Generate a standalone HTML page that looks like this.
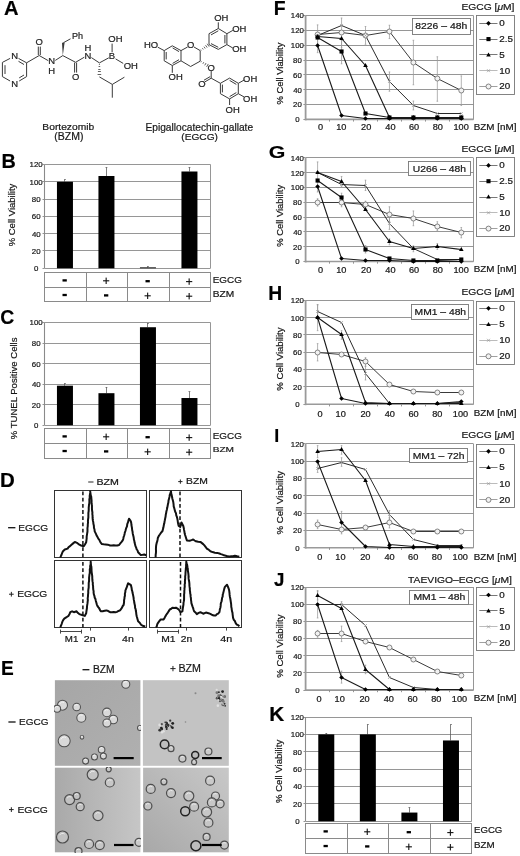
<!DOCTYPE html>
<html><head><meta charset="utf-8"><style>
html,body{margin:0;padding:0;background:#fff;}
svg{display:block;will-change:transform;}
text{font-family:"Liberation Sans",sans-serif;stroke:#111;stroke-width:0.2px;}
</style></head><body>
<svg width="520" height="856" viewBox="0 0 520 856">
<rect width="520" height="856" fill="#fff"/>
<text x="3.9" y="14.6" font-size="20.29" font-weight="bold" textLength="14.55" lengthAdjust="spacingAndGlyphs" fill="#000">A</text>
<text x="1.41" y="167.7" font-size="20.58" font-weight="bold" textLength="14.33" lengthAdjust="spacingAndGlyphs" fill="#000">B</text>
<text x="0.22" y="323.8" font-size="20.28" font-weight="bold" textLength="14" lengthAdjust="spacingAndGlyphs" fill="#000">C</text>
<text x="-0.13" y="487" font-size="20.43" font-weight="bold" textLength="14.8" lengthAdjust="spacingAndGlyphs" fill="#000">D</text>
<text x="0.96" y="674.9" font-size="20.87" font-weight="bold" textLength="12.75" lengthAdjust="spacingAndGlyphs" fill="#000">E</text>
<text x="273.64" y="15.2" font-size="19.86" font-weight="bold" textLength="11.86" lengthAdjust="spacingAndGlyphs" fill="#000">F</text>
<text x="268.75" y="157.83" font-size="16.76" font-weight="bold" textLength="16.59" lengthAdjust="spacingAndGlyphs" fill="#000">G</text>
<text x="268.34" y="299.5" font-size="19.42" font-weight="bold" textLength="13.95" lengthAdjust="spacingAndGlyphs" fill="#000">H</text>
<text x="274.13" y="441.6" font-size="19.13" font-weight="bold" textLength="4.98" lengthAdjust="spacingAndGlyphs" fill="#000">I</text>
<text x="274.12" y="586.12" font-size="18.43" font-weight="bold" textLength="10.42" lengthAdjust="spacingAndGlyphs" fill="#000">J</text>
<text x="269.25" y="720.5" font-size="19.86" font-weight="bold" textLength="15" lengthAdjust="spacingAndGlyphs" fill="#000">K</text>
<polyline points="10.1,58.4 2.4,62.4 2.4,76.6 10.1,81" stroke="#3a3a3a" stroke-width="1" fill="none" stroke-linejoin="round" />
<polyline points="18.5,58.4 26.6,62.8 26.6,76.6 19.2,81" stroke="#3a3a3a" stroke-width="1" fill="none" stroke-linejoin="round" />
<polyline points="18.5,61.3 24,64.5" stroke="#3a3a3a" stroke-width="1" fill="none" stroke-linejoin="round" />
<polyline points="24,75 19.2,77.9" stroke="#3a3a3a" stroke-width="1" fill="none" stroke-linejoin="round" />
<polyline points="5,65.2 5,74" stroke="#3a3a3a" stroke-width="1" fill="none" stroke-linejoin="round" />
<text x="11.39" y="58.77" font-size="8.6" font-weight="normal" textLength="6.83" lengthAdjust="spacingAndGlyphs" fill="#2a2a2a">N</text>
<text x="11.39" y="86.97" font-size="8.6" font-weight="normal" textLength="6.83" lengthAdjust="spacingAndGlyphs" fill="#2a2a2a">N</text>
<polyline points="26.6,62.8 39.2,55.5 48.3,60.7" stroke="#3a3a3a" stroke-width="1" fill="none" stroke-linejoin="round" />
<polyline points="38.3,55 38.3,46.6" stroke="#3a3a3a" stroke-width="1" fill="none" stroke-linejoin="round" />
<polyline points="40.3,55 40.3,46.6" stroke="#3a3a3a" stroke-width="1" fill="none" stroke-linejoin="round" />
<text x="35.53" y="45.17" font-size="8.6" font-weight="normal" textLength="7.36" lengthAdjust="spacingAndGlyphs" fill="#2a2a2a">O</text>
<polyline points="55.3,60.4 62.8,55.6 75.6,62.3 84.3,57.2" stroke="#3a3a3a" stroke-width="1" fill="none" stroke-linejoin="round" />
<polygon points="62.80,55.60 64.60,42.85 62.00,42.75" fill="#3a3a3a"/>
<polyline points="63.3,42.8 70.5,38.8" stroke="#3a3a3a" stroke-width="1" fill="none" stroke-linejoin="round" />
<text x="72.02" y="39.02" font-size="8.6" font-weight="normal" textLength="11.05" lengthAdjust="spacingAndGlyphs" fill="#2a2a2a">Ph</text>
<text x="48.39" y="64.17" font-size="8.6" font-weight="normal" textLength="6.83" lengthAdjust="spacingAndGlyphs" fill="#2a2a2a">N</text>
<text x="48.39" y="74.37" font-size="8.6" font-weight="normal" textLength="6.83" lengthAdjust="spacingAndGlyphs" fill="#2a2a2a">H</text>
<polyline points="74.6,62.6 74.6,72.6" stroke="#3a3a3a" stroke-width="1" fill="none" stroke-linejoin="round" />
<polyline points="76.6,62.6 76.6,72.6" stroke="#3a3a3a" stroke-width="1" fill="none" stroke-linejoin="round" />
<text x="71.93" y="80.17" font-size="8.6" font-weight="normal" textLength="7.36" lengthAdjust="spacingAndGlyphs" fill="#2a2a2a">O</text>
<text x="84.49" y="58.97" font-size="8.6" font-weight="normal" textLength="6.83" lengthAdjust="spacingAndGlyphs" fill="#2a2a2a">N</text>
<text x="84.49" y="50.87" font-size="8.6" font-weight="normal" textLength="6.83" lengthAdjust="spacingAndGlyphs" fill="#2a2a2a">H</text>
<polyline points="91.4,57.6 99.4,62.9 108.8,57.8" stroke="#3a3a3a" stroke-width="1" fill="none" stroke-linejoin="round" />
<line x1="99.87" y1="64.5" x2="98.93" y2="64.5" stroke="#3a3a3a" stroke-width="0.8" />
<line x1="100.21" y1="66.5" x2="98.59" y2="66.5" stroke="#3a3a3a" stroke-width="0.8" />
<line x1="100.55" y1="69.5" x2="98.25" y2="69.5" stroke="#3a3a3a" stroke-width="0.8" />
<line x1="100.89" y1="71.5" x2="97.91" y2="71.5" stroke="#3a3a3a" stroke-width="0.8" />
<line x1="101.23" y1="74.5" x2="97.57" y2="74.5" stroke="#3a3a3a" stroke-width="0.8" />
<text x="108.81" y="59.47" font-size="8.6" font-weight="normal" textLength="6.31" lengthAdjust="spacingAndGlyphs" fill="#2a2a2a">B</text>
<polyline points="112.1,52.3 112.1,43.6" stroke="#3a3a3a" stroke-width="1" fill="none" stroke-linejoin="round" />
<text x="108.37" y="41.67" font-size="8.6" font-weight="normal" textLength="14.19" lengthAdjust="spacingAndGlyphs" fill="#2a2a2a">OH</text>
<polyline points="115.6,58.9 123.2,63.4" stroke="#3a3a3a" stroke-width="1" fill="none" stroke-linejoin="round" />
<text x="123.67" y="68.77" font-size="8.6" font-weight="normal" textLength="14.19" lengthAdjust="spacingAndGlyphs" fill="#2a2a2a">OH</text>
<polyline points="99.4,76.9 112.3,84.4 124.4,77.2" stroke="#3a3a3a" stroke-width="1" fill="none" stroke-linejoin="round" />
<polyline points="112.3,84.4 112.3,97.7" stroke="#3a3a3a" stroke-width="1" fill="none" stroke-linejoin="round" />
<text x="42.38" y="130.1" font-size="9.8" font-weight="normal" textLength="51.76" lengthAdjust="spacingAndGlyphs" fill="#1a1a1a">Bortezomib</text>
<text x="54.37" y="140.34" font-size="10.27" font-weight="normal" textLength="29.18" lengthAdjust="spacingAndGlyphs" fill="#1a1a1a">(BZM)</text>
<text x="143.96" y="48.17" font-size="8.6" font-weight="normal" textLength="14.19" lengthAdjust="spacingAndGlyphs" fill="#2a2a2a">HO</text>
<polyline points="157.8,47.2 164.2,50.6" stroke="#3a3a3a" stroke-width="1" fill="none" stroke-linejoin="round" />
<polyline points="164.2,50.6 172.3,45.8 181,50.6 181,60.8 172.3,65.5 164.2,60.8 164.2,50.6" stroke="#3a3a3a" stroke-width="1" fill="none" stroke-linejoin="round" />
<polyline points="166.2,52 166.2,59.4" stroke="#3a3a3a" stroke-width="1" fill="none" stroke-linejoin="round" />
<polyline points="172.6,47.9 179,51.6" stroke="#3a3a3a" stroke-width="1" fill="none" stroke-linejoin="round" />
<polyline points="172.6,63.4 179,59.7" stroke="#3a3a3a" stroke-width="1" fill="none" stroke-linejoin="round" />
<polyline points="181,50.6 187.6,47" stroke="#3a3a3a" stroke-width="1" fill="none" stroke-linejoin="round" />
<text x="187.13" y="48.17" font-size="8.6" font-weight="normal" textLength="7.36" lengthAdjust="spacingAndGlyphs" fill="#2a2a2a">O</text>
<polyline points="194,47 200.2,50.6 200.2,61.2 190.6,66.5 181,60.8" stroke="#3a3a3a" stroke-width="1" fill="none" stroke-linejoin="round" />
<line x1="200.82" y1="49.62" x2="201.34" y2="50.38" stroke="#3a3a3a" stroke-width="0.8" />
<line x1="202.4" y1="48.16" x2="203.28" y2="49.44" stroke="#3a3a3a" stroke-width="0.8" />
<line x1="203.98" y1="46.69" x2="205.22" y2="48.51" stroke="#3a3a3a" stroke-width="0.8" />
<line x1="205.56" y1="45.23" x2="207.16" y2="47.57" stroke="#3a3a3a" stroke-width="0.8" />
<line x1="207.14" y1="43.76" x2="209.1" y2="46.64" stroke="#3a3a3a" stroke-width="0.8" />
<polyline points="209,44.6 209,33.7 218.3,28.5 226.9,33.7 226.9,44.6 218.3,49.4 209,44.6" stroke="#3a3a3a" stroke-width="1" fill="none" stroke-linejoin="round" />
<polyline points="211,34.9 218.3,30.8" stroke="#3a3a3a" stroke-width="1" fill="none" stroke-linejoin="round" />
<polyline points="224.9,35 224.9,43.4" stroke="#3a3a3a" stroke-width="1" fill="none" stroke-linejoin="round" />
<polyline points="211,43.6 218.3,47.3" stroke="#3a3a3a" stroke-width="1" fill="none" stroke-linejoin="round" />
<polyline points="218.3,28.5 218.3,22.3" stroke="#3a3a3a" stroke-width="1" fill="none" stroke-linejoin="round" />
<text x="214.27" y="21.07" font-size="8.6" font-weight="normal" textLength="14.19" lengthAdjust="spacingAndGlyphs" fill="#2a2a2a">OH</text>
<polyline points="226.9,33.7 232.8,30.4" stroke="#3a3a3a" stroke-width="1" fill="none" stroke-linejoin="round" />
<text x="232.17" y="31.97" font-size="8.6" font-weight="normal" textLength="14.19" lengthAdjust="spacingAndGlyphs" fill="#2a2a2a">OH</text>
<polyline points="226.9,44.6 232.8,48" stroke="#3a3a3a" stroke-width="1" fill="none" stroke-linejoin="round" />
<text x="232.17" y="52.17" font-size="8.6" font-weight="normal" textLength="14.19" lengthAdjust="spacingAndGlyphs" fill="#2a2a2a">OH</text>
<polyline points="172.3,65.5 172.3,72.8" stroke="#3a3a3a" stroke-width="1" fill="none" stroke-linejoin="round" />
<text x="168.57" y="80.47" font-size="8.6" font-weight="normal" textLength="14.19" lengthAdjust="spacingAndGlyphs" fill="#2a2a2a">OH</text>
<line x1="201.49" y1="61.37" x2="200.99" y2="62.23" stroke="#3a3a3a" stroke-width="0.8" />
<line x1="203.76" y1="62.22" x2="202.86" y2="63.78" stroke="#3a3a3a" stroke-width="0.8" />
<line x1="206.04" y1="63.07" x2="204.74" y2="65.33" stroke="#3a3a3a" stroke-width="0.8" />
<line x1="208.31" y1="63.93" x2="206.61" y2="66.87" stroke="#3a3a3a" stroke-width="0.8" />
<text x="207.53" y="70.67" font-size="8.6" font-weight="normal" textLength="7.36" lengthAdjust="spacingAndGlyphs" fill="#2a2a2a">O</text>
<polyline points="211.2,70.8 211.2,78.2 220.4,83.3" stroke="#3a3a3a" stroke-width="1" fill="none" stroke-linejoin="round" />
<polyline points="211.2,78.2 205,81.8" stroke="#3a3a3a" stroke-width="1" fill="none" stroke-linejoin="round" />
<polyline points="210.2,76.6 204,80.2" stroke="#3a3a3a" stroke-width="1" fill="none" stroke-linejoin="round" />
<text x="198.23" y="86.87" font-size="8.6" font-weight="normal" textLength="7.36" lengthAdjust="spacingAndGlyphs" fill="#2a2a2a">O</text>
<polyline points="220.4,83.3 229.6,78.1 238.3,83.3 238.3,93.7 229.6,98.9 220.4,93.7 220.4,83.3" stroke="#3a3a3a" stroke-width="1" fill="none" stroke-linejoin="round" />
<polyline points="229.6,80.4 236.3,84.4" stroke="#3a3a3a" stroke-width="1" fill="none" stroke-linejoin="round" />
<polyline points="236.3,92.6 229.6,96.6" stroke="#3a3a3a" stroke-width="1" fill="none" stroke-linejoin="round" />
<polyline points="222.4,84.6 222.4,92.4" stroke="#3a3a3a" stroke-width="1" fill="none" stroke-linejoin="round" />
<polyline points="238.3,83.3 244.2,80" stroke="#3a3a3a" stroke-width="1" fill="none" stroke-linejoin="round" />
<text x="243.07" y="81.67" font-size="8.6" font-weight="normal" textLength="14.19" lengthAdjust="spacingAndGlyphs" fill="#2a2a2a">OH</text>
<polyline points="238.3,93.7 244.2,97" stroke="#3a3a3a" stroke-width="1" fill="none" stroke-linejoin="round" />
<text x="243.07" y="102.37" font-size="8.6" font-weight="normal" textLength="14.19" lengthAdjust="spacingAndGlyphs" fill="#2a2a2a">OH</text>
<polyline points="229.6,98.9 229.6,105" stroke="#3a3a3a" stroke-width="1" fill="none" stroke-linejoin="round" />
<text x="225.57" y="112.77" font-size="8.6" font-weight="normal" textLength="14.19" lengthAdjust="spacingAndGlyphs" fill="#2a2a2a">OH</text>
<text x="145.49" y="130.51" font-size="10.91" font-weight="normal" textLength="107.6" lengthAdjust="spacingAndGlyphs" fill="#1a1a1a">Epigallocatechin-gallate</text>
<text x="181.29" y="140.21" font-size="9.95" font-weight="normal" textLength="36.63" lengthAdjust="spacingAndGlyphs" fill="#1a1a1a">(EGCG)</text>
<line x1="44.5" y1="268.5" x2="210.5" y2="268.5" stroke="#8a8a8a" stroke-width="0.9" />
<line x1="42.5" y1="268.5" x2="44.5" y2="268.5" stroke="#8a8a8a" stroke-width="0.9" />
<text x="34.09" y="271.24" font-size="7.5" font-weight="normal" textLength="4.38" lengthAdjust="spacingAndGlyphs" fill="#1a1a1a">0</text>
<line x1="44.5" y1="250.5" x2="210.5" y2="250.5" stroke="#8a8a8a" stroke-width="0.9" />
<line x1="42.5" y1="250.5" x2="44.5" y2="250.5" stroke="#8a8a8a" stroke-width="0.9" />
<text x="31.87" y="253.95" font-size="7.5" font-weight="normal" textLength="8.76" lengthAdjust="spacingAndGlyphs" fill="#1a1a1a">20</text>
<line x1="44.5" y1="233.5" x2="210.5" y2="233.5" stroke="#8a8a8a" stroke-width="0.9" />
<line x1="42.5" y1="233.5" x2="44.5" y2="233.5" stroke="#8a8a8a" stroke-width="0.9" />
<text x="31.99" y="236.65" font-size="7.5" font-weight="normal" textLength="8.76" lengthAdjust="spacingAndGlyphs" fill="#1a1a1a">40</text>
<line x1="44.5" y1="216.5" x2="210.5" y2="216.5" stroke="#8a8a8a" stroke-width="0.9" />
<line x1="42.5" y1="216.5" x2="44.5" y2="216.5" stroke="#8a8a8a" stroke-width="0.9" />
<text x="31.87" y="219.36" font-size="7.5" font-weight="normal" textLength="8.76" lengthAdjust="spacingAndGlyphs" fill="#1a1a1a">60</text>
<line x1="44.5" y1="199.5" x2="210.5" y2="199.5" stroke="#8a8a8a" stroke-width="0.9" />
<line x1="42.5" y1="199.5" x2="44.5" y2="199.5" stroke="#8a8a8a" stroke-width="0.9" />
<text x="31.89" y="202.07" font-size="7.5" font-weight="normal" textLength="8.76" lengthAdjust="spacingAndGlyphs" fill="#1a1a1a">80</text>
<line x1="44.5" y1="181.5" x2="210.5" y2="181.5" stroke="#8a8a8a" stroke-width="0.9" />
<line x1="42.5" y1="181.5" x2="44.5" y2="181.5" stroke="#8a8a8a" stroke-width="0.9" />
<text x="29.59" y="184.78" font-size="7.5" font-weight="normal" textLength="13.14" lengthAdjust="spacingAndGlyphs" fill="#1a1a1a">100</text>
<line x1="44.5" y1="164.5" x2="210.5" y2="164.5" stroke="#8a8a8a" stroke-width="0.9" />
<line x1="42.5" y1="164.5" x2="44.5" y2="164.5" stroke="#8a8a8a" stroke-width="0.9" />
<text x="29.59" y="167.49" font-size="7.5" font-weight="normal" textLength="13.14" lengthAdjust="spacingAndGlyphs" fill="#1a1a1a">120</text>
<line x1="44.5" y1="164.5" x2="44.5" y2="268.25" stroke="#8a8a8a" stroke-width="1.1" />
<line x1="210.5" y1="164.5" x2="210.5" y2="268.25" stroke="#8a8a8a" stroke-width="0.9" />
<line x1="64.5" y1="181.79" x2="64.5" y2="179.8" stroke="#555" stroke-width="0.75" />
<line x1="64.05" y1="179.5" x2="65.85" y2="179.5" stroke="#555" stroke-width="0.75" />
<rect x="56.95" y="181.79" width="16" height="86.46" fill="#000" stroke="none" stroke-width="1"/>
<line x1="106.5" y1="176" x2="106.5" y2="167.53" stroke="#555" stroke-width="0.75" />
<line x1="105.55" y1="167.5" x2="107.35" y2="167.5" stroke="#555" stroke-width="0.75" />
<rect x="98.45" y="176" width="16" height="92.25" fill="#000" stroke="none" stroke-width="1"/>
<line x1="147.5" y1="267.39" x2="147.5" y2="266.69" stroke="#555" stroke-width="0.75" />
<line x1="147.05" y1="266.5" x2="148.85" y2="266.5" stroke="#555" stroke-width="0.75" />
<rect x="139.95" y="267.39" width="16" height="0.86" fill="#000" stroke="none" stroke-width="1"/>
<line x1="189.5" y1="171.5" x2="189.5" y2="167.53" stroke="#555" stroke-width="0.75" />
<line x1="188.55" y1="167.5" x2="190.35" y2="167.5" stroke="#555" stroke-width="0.75" />
<rect x="181.45" y="171.5" width="16" height="96.75" fill="#000" stroke="none" stroke-width="1"/>
<rect x="44.5" y="272.5" width="166" height="29" fill="none" stroke="#8a8a8a" stroke-width="1"/>
<line x1="44.5" y1="287.5" x2="210.5" y2="287.5" stroke="#8a8a8a" stroke-width="1" />
<line x1="86.5" y1="272.6" x2="86.5" y2="301.8" stroke="#8a8a8a" stroke-width="1" />
<line x1="127.5" y1="272.6" x2="127.5" y2="301.8" stroke="#8a8a8a" stroke-width="1" />
<line x1="169.5" y1="272.6" x2="169.5" y2="301.8" stroke="#8a8a8a" stroke-width="1" />
<rect x="62.5" y="279.25" width="4.3" height="2.3" fill="#000" stroke="none" stroke-width="1"/>
<rect x="103.05" y="280.25" width="6.2" height="1.1" fill="#111" stroke="none" stroke-width="1"/>
<rect x="105.6" y="277.6" width="1.1" height="6.4" fill="#111" stroke="none" stroke-width="1"/>
<rect x="145.5" y="280.05" width="4.3" height="2.3" fill="#000" stroke="none" stroke-width="1"/>
<rect x="186.05" y="281.05" width="6.2" height="1.1" fill="#111" stroke="none" stroke-width="1"/>
<rect x="188.6" y="278.4" width="1.1" height="6.4" fill="#111" stroke="none" stroke-width="1"/>
<rect x="62.5" y="293.85" width="4.3" height="2.3" fill="#000" stroke="none" stroke-width="1"/>
<rect x="104" y="294.25" width="4.3" height="2.3" fill="#000" stroke="none" stroke-width="1"/>
<rect x="144.55" y="295.25" width="6.2" height="1.1" fill="#111" stroke="none" stroke-width="1"/>
<rect x="147.1" y="292.6" width="1.1" height="6.4" fill="#111" stroke="none" stroke-width="1"/>
<rect x="186.05" y="295.65" width="6.2" height="1.1" fill="#111" stroke="none" stroke-width="1"/>
<rect x="188.6" y="293" width="1.1" height="6.4" fill="#111" stroke="none" stroke-width="1"/>
<text x="212.71" y="282.71" font-size="9.3" font-weight="normal" textLength="29.13" lengthAdjust="spacingAndGlyphs" fill="#1a1a1a">EGCG</text>
<text x="212.69" y="296.6" font-size="8.41" font-weight="normal" textLength="21.43" lengthAdjust="spacingAndGlyphs" fill="#1a1a1a">BZM</text>
<text x="0" y="0" transform="translate(14.77,246.33) rotate(-90)" font-size="8.8" textLength="62.64" lengthAdjust="spacingAndGlyphs" fill="#1a1a1a">% Cell Viability</text>
<line x1="44.5" y1="425.5" x2="210.5" y2="425.5" stroke="#8a8a8a" stroke-width="0.9" />
<line x1="42.5" y1="425.5" x2="44.5" y2="425.5" stroke="#8a8a8a" stroke-width="0.9" />
<text x="34.09" y="428.24" font-size="7.5" font-weight="normal" textLength="4.38" lengthAdjust="spacingAndGlyphs" fill="#1a1a1a">0</text>
<line x1="44.5" y1="404.5" x2="210.5" y2="404.5" stroke="#8a8a8a" stroke-width="0.9" />
<line x1="42.5" y1="404.5" x2="44.5" y2="404.5" stroke="#8a8a8a" stroke-width="0.9" />
<text x="31.87" y="407.69" font-size="7.5" font-weight="normal" textLength="8.76" lengthAdjust="spacingAndGlyphs" fill="#1a1a1a">20</text>
<line x1="44.5" y1="384.5" x2="210.5" y2="384.5" stroke="#8a8a8a" stroke-width="0.9" />
<line x1="42.5" y1="384.5" x2="44.5" y2="384.5" stroke="#8a8a8a" stroke-width="0.9" />
<text x="31.99" y="387.14" font-size="7.5" font-weight="normal" textLength="8.76" lengthAdjust="spacingAndGlyphs" fill="#1a1a1a">40</text>
<line x1="44.5" y1="363.5" x2="210.5" y2="363.5" stroke="#8a8a8a" stroke-width="0.9" />
<line x1="42.5" y1="363.5" x2="44.5" y2="363.5" stroke="#8a8a8a" stroke-width="0.9" />
<text x="31.87" y="366.59" font-size="7.5" font-weight="normal" textLength="8.76" lengthAdjust="spacingAndGlyphs" fill="#1a1a1a">60</text>
<line x1="44.5" y1="343.5" x2="210.5" y2="343.5" stroke="#8a8a8a" stroke-width="0.9" />
<line x1="42.5" y1="343.5" x2="44.5" y2="343.5" stroke="#8a8a8a" stroke-width="0.9" />
<text x="31.89" y="346.04" font-size="7.5" font-weight="normal" textLength="8.76" lengthAdjust="spacingAndGlyphs" fill="#1a1a1a">80</text>
<line x1="44.5" y1="322.5" x2="210.5" y2="322.5" stroke="#8a8a8a" stroke-width="0.9" />
<line x1="42.5" y1="322.5" x2="44.5" y2="322.5" stroke="#8a8a8a" stroke-width="0.9" />
<text x="29.59" y="325.49" font-size="7.5" font-weight="normal" textLength="13.14" lengthAdjust="spacingAndGlyphs" fill="#1a1a1a">100</text>
<line x1="44.5" y1="322.5" x2="44.5" y2="425.25" stroke="#8a8a8a" stroke-width="1.1" />
<line x1="210.5" y1="322.5" x2="210.5" y2="425.25" stroke="#8a8a8a" stroke-width="0.9" />
<line x1="64.5" y1="385.69" x2="64.5" y2="383.64" stroke="#555" stroke-width="0.75" />
<line x1="64.05" y1="383.5" x2="65.85" y2="383.5" stroke="#555" stroke-width="0.75" />
<rect x="56.95" y="385.69" width="16" height="39.56" fill="#000" stroke="none" stroke-width="1"/>
<line x1="106.5" y1="393.19" x2="106.5" y2="387.23" stroke="#555" stroke-width="0.75" />
<line x1="105.55" y1="387.5" x2="107.35" y2="387.5" stroke="#555" stroke-width="0.75" />
<rect x="98.45" y="393.19" width="16" height="32.06" fill="#000" stroke="none" stroke-width="1"/>
<line x1="147.5" y1="327.23" x2="147.5" y2="323.22" stroke="#555" stroke-width="0.75" />
<line x1="147.05" y1="323.5" x2="148.85" y2="323.5" stroke="#555" stroke-width="0.75" />
<rect x="139.95" y="327.23" width="16" height="98.02" fill="#000" stroke="none" stroke-width="1"/>
<line x1="189.5" y1="398.02" x2="189.5" y2="391.96" stroke="#555" stroke-width="0.75" />
<line x1="188.55" y1="391.5" x2="190.35" y2="391.5" stroke="#555" stroke-width="0.75" />
<rect x="181.45" y="398.02" width="16" height="27.23" fill="#000" stroke="none" stroke-width="1"/>
<rect x="44.5" y="428.5" width="166" height="30" fill="none" stroke="#8a8a8a" stroke-width="1"/>
<line x1="44.5" y1="443.5" x2="210.5" y2="443.5" stroke="#8a8a8a" stroke-width="1" />
<line x1="86.5" y1="428.75" x2="86.5" y2="458" stroke="#8a8a8a" stroke-width="1" />
<line x1="127.5" y1="428.75" x2="127.5" y2="458" stroke="#8a8a8a" stroke-width="1" />
<line x1="169.5" y1="428.75" x2="169.5" y2="458" stroke="#8a8a8a" stroke-width="1" />
<rect x="62.5" y="435.25" width="4.3" height="2.3" fill="#000" stroke="none" stroke-width="1"/>
<rect x="103.05" y="436.25" width="6.2" height="1.1" fill="#111" stroke="none" stroke-width="1"/>
<rect x="105.6" y="433.6" width="1.1" height="6.4" fill="#111" stroke="none" stroke-width="1"/>
<rect x="145.5" y="436.05" width="4.3" height="2.3" fill="#000" stroke="none" stroke-width="1"/>
<rect x="186.05" y="437.05" width="6.2" height="1.1" fill="#111" stroke="none" stroke-width="1"/>
<rect x="188.6" y="434.4" width="1.1" height="6.4" fill="#111" stroke="none" stroke-width="1"/>
<rect x="62.5" y="449.88" width="4.3" height="2.3" fill="#000" stroke="none" stroke-width="1"/>
<rect x="104" y="450.27" width="4.3" height="2.3" fill="#000" stroke="none" stroke-width="1"/>
<rect x="144.55" y="451.27" width="6.2" height="1.1" fill="#111" stroke="none" stroke-width="1"/>
<rect x="147.1" y="448.62" width="1.1" height="6.4" fill="#111" stroke="none" stroke-width="1"/>
<rect x="186.05" y="451.67" width="6.2" height="1.1" fill="#111" stroke="none" stroke-width="1"/>
<rect x="188.6" y="449.02" width="1.1" height="6.4" fill="#111" stroke="none" stroke-width="1"/>
<text x="212.71" y="438.71" font-size="9.3" font-weight="normal" textLength="29.13" lengthAdjust="spacingAndGlyphs" fill="#1a1a1a">EGCG</text>
<text x="212.69" y="452.4" font-size="8.12" font-weight="normal" textLength="21.33" lengthAdjust="spacingAndGlyphs" fill="#1a1a1a">BZM</text>
<text x="0" y="0" transform="translate(16.65,439.23) rotate(-90)" font-size="8.8" textLength="101.67" lengthAdjust="spacingAndGlyphs" fill="#1a1a1a">% TUNEL Positive Cells</text>
<line x1="305.5" y1="821.5" x2="471.75" y2="821.5" stroke="#8a8a8a" stroke-width="0.9" />
<line x1="303.5" y1="821.5" x2="305.5" y2="821.5" stroke="#8a8a8a" stroke-width="0.9" />
<text x="295.3" y="824.24" font-size="7.5" font-weight="normal" textLength="4.38" lengthAdjust="spacingAndGlyphs" fill="#1a1a1a">0</text>
<line x1="305.5" y1="803.5" x2="471.75" y2="803.5" stroke="#8a8a8a" stroke-width="0.9" />
<line x1="303.5" y1="803.5" x2="305.5" y2="803.5" stroke="#8a8a8a" stroke-width="0.9" />
<text x="293.07" y="806.86" font-size="7.5" font-weight="normal" textLength="8.76" lengthAdjust="spacingAndGlyphs" fill="#1a1a1a">20</text>
<line x1="305.5" y1="786.5" x2="471.75" y2="786.5" stroke="#8a8a8a" stroke-width="0.9" />
<line x1="303.5" y1="786.5" x2="305.5" y2="786.5" stroke="#8a8a8a" stroke-width="0.9" />
<text x="293.19" y="789.49" font-size="7.5" font-weight="normal" textLength="8.76" lengthAdjust="spacingAndGlyphs" fill="#1a1a1a">40</text>
<line x1="305.5" y1="769.5" x2="471.75" y2="769.5" stroke="#8a8a8a" stroke-width="0.9" />
<line x1="303.5" y1="769.5" x2="305.5" y2="769.5" stroke="#8a8a8a" stroke-width="0.9" />
<text x="293.07" y="772.11" font-size="7.5" font-weight="normal" textLength="8.76" lengthAdjust="spacingAndGlyphs" fill="#1a1a1a">60</text>
<line x1="305.5" y1="751.5" x2="471.75" y2="751.5" stroke="#8a8a8a" stroke-width="0.9" />
<line x1="303.5" y1="751.5" x2="305.5" y2="751.5" stroke="#8a8a8a" stroke-width="0.9" />
<text x="293.09" y="754.74" font-size="7.5" font-weight="normal" textLength="8.76" lengthAdjust="spacingAndGlyphs" fill="#1a1a1a">80</text>
<line x1="305.5" y1="734.5" x2="471.75" y2="734.5" stroke="#8a8a8a" stroke-width="0.9" />
<line x1="303.5" y1="734.5" x2="305.5" y2="734.5" stroke="#8a8a8a" stroke-width="0.9" />
<text x="290.79" y="737.36" font-size="7.5" font-weight="normal" textLength="13.14" lengthAdjust="spacingAndGlyphs" fill="#1a1a1a">100</text>
<line x1="305.5" y1="717.5" x2="471.75" y2="717.5" stroke="#8a8a8a" stroke-width="0.9" />
<line x1="303.5" y1="717.5" x2="305.5" y2="717.5" stroke="#8a8a8a" stroke-width="0.9" />
<text x="290.79" y="719.99" font-size="7.5" font-weight="normal" textLength="13.14" lengthAdjust="spacingAndGlyphs" fill="#1a1a1a">120</text>
<line x1="305.5" y1="717" x2="305.5" y2="821.25" stroke="#8a8a8a" stroke-width="1.1" />
<line x1="471.5" y1="717" x2="471.5" y2="821.25" stroke="#8a8a8a" stroke-width="0.9" />
<line x1="326.5" y1="734.38" x2="326.5" y2="733.51" stroke="#555" stroke-width="0.75" />
<line x1="325.38" y1="733.5" x2="327.18" y2="733.5" stroke="#555" stroke-width="0.75" />
<rect x="318.28" y="734.38" width="16" height="86.88" fill="#000" stroke="none" stroke-width="1"/>
<line x1="367.5" y1="734.38" x2="367.5" y2="724.82" stroke="#555" stroke-width="0.75" />
<line x1="366.94" y1="724.5" x2="368.74" y2="724.5" stroke="#555" stroke-width="0.75" />
<rect x="359.84" y="734.38" width="16" height="86.88" fill="#000" stroke="none" stroke-width="1"/>
<line x1="409.5" y1="812.56" x2="409.5" y2="807.78" stroke="#555" stroke-width="0.75" />
<line x1="408.51" y1="807.5" x2="410.31" y2="807.5" stroke="#555" stroke-width="0.75" />
<rect x="401.41" y="812.56" width="16" height="8.69" fill="#000" stroke="none" stroke-width="1"/>
<line x1="450.5" y1="740.46" x2="450.5" y2="724.82" stroke="#555" stroke-width="0.75" />
<line x1="450.07" y1="724.5" x2="451.87" y2="724.5" stroke="#555" stroke-width="0.75" />
<rect x="442.97" y="740.46" width="16" height="80.79" fill="#000" stroke="none" stroke-width="1"/>
<rect x="305.5" y="823.5" width="166" height="30" fill="none" stroke="#8a8a8a" stroke-width="1"/>
<line x1="305.5" y1="838.5" x2="471.75" y2="838.5" stroke="#8a8a8a" stroke-width="1" />
<line x1="347.5" y1="823.75" x2="347.5" y2="853" stroke="#8a8a8a" stroke-width="1" />
<line x1="388.5" y1="823.75" x2="388.5" y2="853" stroke="#8a8a8a" stroke-width="1" />
<line x1="430.5" y1="823.75" x2="430.5" y2="853" stroke="#8a8a8a" stroke-width="1" />
<rect x="323.53" y="830.25" width="4.3" height="2.3" fill="#000" stroke="none" stroke-width="1"/>
<rect x="364.14" y="831.25" width="6.2" height="1.1" fill="#111" stroke="none" stroke-width="1"/>
<rect x="366.69" y="828.6" width="1.1" height="6.4" fill="#111" stroke="none" stroke-width="1"/>
<rect x="406.66" y="831.05" width="4.3" height="2.3" fill="#000" stroke="none" stroke-width="1"/>
<rect x="447.27" y="832.05" width="6.2" height="1.1" fill="#111" stroke="none" stroke-width="1"/>
<rect x="449.82" y="829.4" width="1.1" height="6.4" fill="#111" stroke="none" stroke-width="1"/>
<rect x="323.53" y="844.88" width="4.3" height="2.3" fill="#000" stroke="none" stroke-width="1"/>
<rect x="365.09" y="845.27" width="4.3" height="2.3" fill="#000" stroke="none" stroke-width="1"/>
<rect x="405.71" y="846.27" width="6.2" height="1.1" fill="#111" stroke="none" stroke-width="1"/>
<rect x="408.26" y="843.62" width="1.1" height="6.4" fill="#111" stroke="none" stroke-width="1"/>
<rect x="447.27" y="846.67" width="6.2" height="1.1" fill="#111" stroke="none" stroke-width="1"/>
<rect x="449.82" y="844.02" width="1.1" height="6.4" fill="#111" stroke="none" stroke-width="1"/>
<text x="474.03" y="833.31" font-size="9.01" font-weight="normal" textLength="28.29" lengthAdjust="spacingAndGlyphs" fill="#1a1a1a">EGCG</text>
<text x="474.02" y="847.9" font-size="9.28" font-weight="normal" textLength="20.68" lengthAdjust="spacingAndGlyphs" fill="#1a1a1a">BZM</text>
<text x="0" y="0" transform="translate(282.47,803.04) rotate(-90)" font-size="8.8" textLength="63.24" lengthAdjust="spacingAndGlyphs" fill="#1a1a1a">% Cell Viability</text>
<rect x="54.5" y="490.5" width="92" height="67" fill="none" stroke="#333" stroke-width="1"/>
<rect x="149.5" y="490.5" width="92" height="67" fill="none" stroke="#333" stroke-width="1"/>
<rect x="54.5" y="560.5" width="92" height="67" fill="none" stroke="#333" stroke-width="1"/>
<rect x="149.5" y="560.5" width="92" height="67" fill="none" stroke="#333" stroke-width="1"/>
<line x1="82.9" y1="491.5" x2="82.9" y2="557.5" stroke="#111" stroke-width="1.5" stroke-dasharray="3.8,2.4"/>
<line x1="180" y1="491.5" x2="180" y2="557.5" stroke="#111" stroke-width="1.5" stroke-dasharray="3.8,2.4"/>
<line x1="82.9" y1="562" x2="82.9" y2="627.5" stroke="#111" stroke-width="1.5" stroke-dasharray="3.8,2.4"/>
<line x1="180.5" y1="562" x2="180.5" y2="627.5" stroke="#111" stroke-width="1.5" stroke-dasharray="3.8,2.4"/>
<polyline points="60.3,557.6 60.87,556.08 61.63,554.51 62.33,552.51 63,551.3 64.8,549.5 67.6,548.6 68.67,547.05 70.05,546.17 71.2,545 73.12,543.38 74.8,541.9 77.5,543.2 79.37,544.67 81.1,545.5 83.8,546.2 84.92,544.46 86.2,542.2 86.38,540.55 86.69,538.21 86.63,537.12 86.85,535.36 87.21,533.05 87.46,531.78 87.5,529.6 87.45,528.16 87.76,526.04 87.79,524.34 88,522.66 87.93,521.06 88.09,519.17 88.34,517.75 88.35,516.53 88.39,514.17 88.38,512.88 88.62,511.47 88.74,509.65 88.72,507.71 88.9,506.1 89,504.7 89.33,503.17 89.39,501.2 89.34,499.23 89.74,497.8 89.68,495.99 89.92,494.76 90.17,492.88 90.2,491.3 90.47,493.31 90.75,495.43 91.22,496.59 91.4,498.8 91.58,500.66 91.55,502.26 91.61,503.67 91.96,505.78 91.95,507.48 91.95,508.72 92.11,510.76 92.42,512.29 92.34,514.13 92.59,515.73 92.57,517.17 92.69,519.21 92.9,520.5 93.34,522.66 93.41,523.83 93.88,525.85 94,527.97 94.45,529.25 94.7,531.4 95.35,532.61 96.08,534.19 96.74,535.79 97.52,537.08 98.3,538.6 99.18,539.62 100.14,541.69 100.94,542.91 101.9,544.1 103.77,544.29 105.5,544.4 107.78,544.68 110.1,545.5 112.04,545.53 113.68,545.24 115.5,545.5 117.24,545.5 119.1,545 120.31,543.44 121.58,541.95 122.7,540.4 123.22,539.05 123.65,536.88 124.18,535.5 124.58,533.93 124.81,532.58 125.43,530.99 125.78,529.56 126.3,527.8 126.98,526.29 127.26,524.09 128.06,522.2 128.37,520.84 129,518.7 130.07,520.08 130.9,521.5 131.24,523.01 131.42,524.77 131.62,526.12 131.98,528 132.15,530 132.52,531.47 132.7,533.2 133.03,534.86 133.41,536.27 133.74,537.9 133.9,539.5 134.35,540.99 134.62,542.8 135.08,544.45 135.4,545.9 136.15,547.57 136.61,549.25 137.57,550.52 138.1,552.2 139.58,553.75 140.8,554.9 142.74,554.82 144.4,554.5 146.2,555.3" stroke="#111" stroke-width="2" fill="none" stroke-linejoin="round" />
<polyline points="155.6,557.6 155.63,555.98 155.72,554.43 155.96,552.83 155.99,550.68 155.93,549.04 156,547.26 156.1,545.9 156.38,544.24 156.74,542.67 157.23,541.34 157.6,539.5 157.9,537.7 158.82,535.94 159.82,534.52 160.7,533.2 162.5,531 163.01,528.93 163.42,527.37 163.84,525.04 164.3,523.3 164.58,521.34 164.84,520.24 165.16,518.41 165.54,516.83 165.76,514.84 166.1,513.3 166.42,511.23 166.86,509.66 167.3,507.58 167.62,505.88 167.9,504.3 168.37,502.51 168.53,500.58 169.03,498.64 169.46,496.88 169.7,495.2 170.46,493.18 171,491.3 171.22,493.57 171.7,495.09 172.05,497 172.4,498.8 172.83,500.33 173.27,502.05 173.56,504.21 173.7,506.4 174.2,507.9 174.67,509.73 175.21,511.69 175.95,513.17 176.27,515.35 176.9,516.9 177.37,518.88 177.7,520.76 177.88,522.37 178.27,524.23 178.7,526 180.2,526.9 181,524.69 181.5,522.4 182.39,524.12 183.3,526 183.75,527.91 184,529.63 184.43,531.78 184.7,533.56 185.1,535 185.69,536.81 186.28,538.63 186.9,540.4 189.6,540.8 191.52,540.17 193.2,539.5 194.6,540.51 195.9,541.3 198.23,541.74 200.4,541.9 201.66,542.88 203.2,544.1 204.41,545.42 205.73,547.03 206.8,548.6 208.58,549.62 210.4,551.3 212.55,552.07 214.9,552.7 217.25,552.89 219.4,553.5 220.98,554.16 222.54,554.65 224,555.3 225.77,555.68 227.66,556.33 229.4,556.4 231.31,556.17 232.88,556.24 234.8,555.8 237.18,556.31 239.3,556.7" stroke="#111" stroke-width="2" fill="none" stroke-linejoin="round" />
<polyline points="60.3,627.6 60.87,625.86 61.63,624.06 62.33,621.84 63,620.4 64.27,618.7 65.8,617.7 67.2,616.77 68.5,615.9 69.52,613.98 70.3,612.2 72.1,611.3 73.9,612.2 76.6,611.3 78.02,613.02 79.3,614.1 82,615 84.7,615.9 86.2,613.2 86.34,611.79 86.63,610.01 86.97,607.81 86.94,606.85 87.19,605.22 87.5,603.2 87.69,601.35 87.87,600.2 87.69,598.35 88.01,596.22 88.05,594.51 88.27,592.82 88.22,591.19 88.39,589.29 88.65,587.86 88.68,586.62 88.73,584.24 88.73,582.94 88.99,581.52 89.11,579.68 89.1,577.73 89.3,576.1 89.41,574.73 89.75,573.24 89.82,571.3 89.78,569.37 90.2,567.97 90.15,566.19 90.4,565 90.65,563.15 90.7,561.6 90.86,563.55 91.02,565.61 91.38,566.7 91.51,569.05 91.55,570.79 91.68,572.35 92,574.3 92.25,576.26 92.28,577.95 92.31,579.18 92.5,581.21 92.84,582.73 92.8,584.56 93.08,586.15 93.1,587.57 93.26,589.61 93.64,591.22 93.56,592.23 93.8,594.2 94.39,595.78 94.73,597.75 95.4,598.88 95.78,600.66 96.31,602.47 96.77,604.3 97.4,605.9 98.24,607.17 99.18,608.24 100.14,610.29 101,611.3 102.74,611.19 104.67,610.74 106.4,610.4 108.23,611.03 110.1,612.2 112.04,612.23 113.68,611.94 115.5,612.2 116.94,611.85 118.51,610.98 120,610.4 120.98,609.07 121.87,607.92 122.75,605.98 123.6,605 123.93,603.22 124.08,601.61 124.06,600.22 124.43,598.6 124.53,597.13 124.94,595.65 124.88,593.65 125.34,591.98 125.4,590.5 125.98,589.02 126.87,586.88 127.51,584.93 128.1,583.3 129.5,584.13 130.9,585.1 131.18,586.3 131.62,588.09 131.87,590.01 132.33,591.4 132.58,593.11 132.96,594.52 133.29,596.15 133.6,597.8 133.72,599.38 134.1,600.92 134.3,602.77 134.7,604.45 135.03,606.05 135.08,607.78 135.63,609.11 135.89,611.04 136.17,612.59 136.3,614.1 136.69,616.29 137.2,617.92 137.54,619.19 138.1,621.3 139.73,622.7 141.06,624.7 142.6,625.8 145.3,626.4" stroke="#111" stroke-width="2" fill="none" stroke-linejoin="round" />
<polyline points="156.1,627.6 156.78,626.3 157.27,624.24 157.9,623.1 159.28,621.14 160.7,619.5 163.4,619.5 164.38,618.3 165.18,616.68 166.1,615 167.11,613.71 167.86,612.45 168.94,610.91 169.7,609.5 170.94,608.99 172.4,607.7 174.27,608.09 176,607.7 177.49,608.62 178.7,609.5 179.64,610.78 180.5,612.2 182.4,611.3 182.67,609.27 182.79,608.31 183.15,606.21 183.47,604.33 183.49,602.92 183.8,601.4 184.04,599.98 184.09,597.98 184.1,596.07 184.07,594.6 184.32,592.84 184.3,591.25 184.46,589.38 184.49,588.09 184.74,586.73 184.66,584.43 185.02,583.03 184.9,581.76 185.1,579.7 185.21,578.08 185.17,576.22 185.43,575.03 185.51,572.81 185.64,571.12 185.76,569.73 185.84,568.38 186.12,566.74 186.09,564.8 186.26,563.46 186.3,561.6 186.65,563.75 187.16,564.93 187.47,567.14 187.8,568.8 187.87,570.61 188.12,572.11 188.35,573.51 188.53,575.4 188.54,576.93 188.66,578.91 188.93,580.57 189.18,581.68 189.41,583.9 189.42,585.35 189.6,586.9 189.83,588.49 189.85,590.32 190.08,591.62 190.25,593.75 190.55,594.68 190.62,596.41 190.93,598.18 190.98,599.83 191.29,601.64 191.4,603.2 192.06,605.08 192.48,606.31 193.13,608.07 193.49,609.52 194.1,611.3 195.47,612.48 196.8,614.1 198.67,612.82 200.4,612.2 203.2,613.7 205.9,612.6 208.6,613.2 210.39,613.83 212.2,615 214.03,615.4 215.8,615.5 216.89,614.1 218.18,613.55 219.4,612.2 219.7,610.67 219.86,609.3 220.38,607.7 220.66,605.88 220.75,603.81 221.17,602.32 221.58,601.29 221.89,599.53 222.1,597.8 222.64,596.61 222.79,594.4 223.16,593.36 223.59,591.63 224.07,589.63 224.4,588.37 224.9,586.9 227,584.8 227.8,586.37 228.38,587.92 229,589.6 229.26,591.13 229.49,592.81 229.62,594.63 229.88,596.66 230.19,597.96 230.58,600.26 230.72,601.33 231.06,603.49 231.2,605 231.29,606.96 231.61,608.26 231.78,609.81 232.11,611.62 232.47,612.57 232.63,614.53 232.84,615.97 233,617.7 233.81,619.84 234.89,621.04 235.7,623.1 236.79,624.57 238.21,625.07 239.3,626.4" stroke="#111" stroke-width="2" fill="none" stroke-linejoin="round" />
<line x1="60.75" y1="631.5" x2="81.5" y2="631.5" stroke="#333" stroke-width="0.9" />
<line x1="60.5" y1="629.6" x2="60.5" y2="633.6" stroke="#333" stroke-width="0.9" />
<line x1="81.5" y1="629.6" x2="81.5" y2="633.6" stroke="#333" stroke-width="0.9" />
<line x1="157.7" y1="631.5" x2="178.5" y2="631.5" stroke="#333" stroke-width="0.9" />
<line x1="157.5" y1="629.6" x2="157.5" y2="633.6" stroke="#333" stroke-width="0.9" />
<line x1="178.5" y1="629.6" x2="178.5" y2="633.6" stroke="#333" stroke-width="0.9" />
<line x1="90.5" y1="627.9" x2="90.5" y2="630.6" stroke="#333" stroke-width="0.9" />
<line x1="128.5" y1="627.9" x2="128.5" y2="630.6" stroke="#333" stroke-width="0.9" />
<line x1="186.5" y1="627.9" x2="186.5" y2="630.6" stroke="#333" stroke-width="0.9" />
<line x1="226.5" y1="627.9" x2="226.5" y2="630.6" stroke="#333" stroke-width="0.9" />
<text x="64.82" y="642.2" font-size="8.84" font-weight="normal" textLength="13.51" lengthAdjust="spacingAndGlyphs" fill="#1a1a1a">M1</text>
<text x="83.87" y="642.2" font-size="8.71" font-weight="normal" textLength="11.85" lengthAdjust="spacingAndGlyphs" fill="#1a1a1a">2n</text>
<text x="122.09" y="642.2" font-size="8.84" font-weight="normal" textLength="11.72" lengthAdjust="spacingAndGlyphs" fill="#1a1a1a">4n</text>
<text x="161.18" y="642.2" font-size="8.84" font-weight="normal" textLength="14.28" lengthAdjust="spacingAndGlyphs" fill="#1a1a1a">M1</text>
<text x="180.88" y="642.2" font-size="8.71" font-weight="normal" textLength="11.51" lengthAdjust="spacingAndGlyphs" fill="#1a1a1a">2n</text>
<text x="220.39" y="642.2" font-size="8.84" font-weight="normal" textLength="11.94" lengthAdjust="spacingAndGlyphs" fill="#1a1a1a">4n</text>
<rect x="88.2" y="481.55" width="5.3" height="0.9" fill="#111" stroke="none" stroke-width="1"/>
<text x="96.45" y="484.8" font-size="8.7" font-weight="normal" textLength="22.41" lengthAdjust="spacingAndGlyphs" fill="#1a1a1a">BZM</text>
<rect x="178.2" y="481.1" width="4.3" height="1" fill="#222" stroke="none" stroke-width="1"/>
<rect x="179.85" y="479.45" width="1" height="4.3" fill="#222" stroke="none" stroke-width="1"/>
<text x="185.97" y="484.4" font-size="8.84" font-weight="normal" textLength="21.87" lengthAdjust="spacingAndGlyphs" fill="#1a1a1a">BZM</text>
<rect x="8.1" y="527.05" width="7.3" height="1.3" fill="#111" stroke="none" stroke-width="1"/>
<text x="18.39" y="530.91" font-size="9.15" font-weight="normal" textLength="29.66" lengthAdjust="spacingAndGlyphs" fill="#1a1a1a">EGCG</text>
<rect x="9" y="593.7" width="4.7" height="1" fill="#222" stroke="none" stroke-width="1"/>
<rect x="10.85" y="591.85" width="1" height="4.7" fill="#222" stroke="none" stroke-width="1"/>
<text x="17.18" y="596.71" font-size="9.23" font-weight="normal" textLength="30.08" lengthAdjust="spacingAndGlyphs" fill="#1a1a1a">EGCG</text>
<rect x="82.5" y="669.05" width="6.9" height="1.3" fill="#111" stroke="none" stroke-width="1"/>
<text x="92.92" y="673" font-size="10" font-weight="normal" textLength="21.81" lengthAdjust="spacingAndGlyphs" fill="#1a1a1a">BZM</text>
<rect x="170.3" y="668.1" width="5.3" height="1" fill="#222" stroke="none" stroke-width="1"/>
<rect x="172.45" y="665.95" width="1" height="5.3" fill="#222" stroke="none" stroke-width="1"/>
<text x="178.45" y="672.1" font-size="10.43" font-weight="normal" textLength="22.52" lengthAdjust="spacingAndGlyphs" fill="#1a1a1a">BZM</text>
<rect x="8.4" y="721.35" width="7.2" height="1.3" fill="#111" stroke="none" stroke-width="1"/>
<text x="19.1" y="725.41" font-size="9.3" font-weight="normal" textLength="29.45" lengthAdjust="spacingAndGlyphs" fill="#1a1a1a">EGCG</text>
<rect x="9" y="809.1" width="4.7" height="1" fill="#222" stroke="none" stroke-width="1"/>
<rect x="10.85" y="807.25" width="1" height="4.7" fill="#222" stroke="none" stroke-width="1"/>
<text x="17.47" y="812.81" font-size="9.44" font-weight="normal" textLength="30.4" lengthAdjust="spacingAndGlyphs" fill="#1a1a1a">EGCG</text>
<defs><linearGradient id="g1" x1="0" y1="0" x2="1" y2="1"><stop offset="0" stop-color="#a6a6a6"/><stop offset="1" stop-color="#b0b0b0"/></linearGradient></defs>
<rect x="54.9" y="680.2" width="85.5" height="85.6" fill="url(#g1)" stroke="none" stroke-width="1"/>
<svg x="54.9" y="680.2" width="85.5" height="85.6" viewBox="54.9 680.2 85.5 85.6" overflow="hidden">
<circle cx="125.8" cy="684.2" r="4" fill="#d9d9d9" stroke="#454545" stroke-width="1.05" stroke-opacity="0.9"/>
<path d="M123.6,683.2 A2.4,2.4 0 0 1 127,682" stroke="#f4f4f4" stroke-width="1" fill="none"/>
<circle cx="62.5" cy="705.2" r="5" fill="#d9d9d9" stroke="#454545" stroke-width="1.05" stroke-opacity="0.9"/>
<path d="M59.75,703.95 A3,3 0 0 1 64,702.45" stroke="#f4f4f4" stroke-width="1" fill="none"/>
<circle cx="57.1" cy="708.8" r="3.5" fill="#d9d9d9" stroke="#454545" stroke-width="1.05" stroke-opacity="0.9"/>
<path d="M55.18,707.92 A2.1,2.1 0 0 1 58.15,706.88" stroke="#f4f4f4" stroke-width="1" fill="none"/>
<circle cx="76.7" cy="707" r="3.8" fill="#d9d9d9" stroke="#454545" stroke-width="1.05" stroke-opacity="0.9"/>
<path d="M74.61,706.05 A2.28,2.28 0 0 1 77.84,704.91" stroke="#f4f4f4" stroke-width="1" fill="none"/>
<circle cx="81.3" cy="717.7" r="4.5" fill="#d9d9d9" stroke="#454545" stroke-width="1.05" stroke-opacity="0.9"/>
<path d="M78.83,716.58 A2.7,2.7 0 0 1 82.65,715.23" stroke="#f4f4f4" stroke-width="1" fill="none"/>
<circle cx="106.9" cy="712.4" r="4.3" fill="#d9d9d9" stroke="#454545" stroke-width="1.05" stroke-opacity="0.9"/>
<path d="M104.54,711.32 A2.58,2.58 0 0 1 108.19,710.03" stroke="#f4f4f4" stroke-width="1" fill="none"/>
<circle cx="113.3" cy="719.5" r="4.3" fill="#d9d9d9" stroke="#454545" stroke-width="1.05" stroke-opacity="0.9"/>
<path d="M110.94,718.42 A2.58,2.58 0 0 1 114.59,717.13" stroke="#f4f4f4" stroke-width="1" fill="none"/>
<circle cx="106.9" cy="723" r="4" fill="#d9d9d9" stroke="#454545" stroke-width="1.05" stroke-opacity="0.9"/>
<path d="M104.7,722 A2.4,2.4 0 0 1 108.1,720.8" stroke="#f4f4f4" stroke-width="1" fill="none"/>
<circle cx="64.2" cy="740.8" r="6" fill="#d9d9d9" stroke="#454545" stroke-width="1.05" stroke-opacity="0.9"/>
<path d="M60.9,739.3 A3.6,3.6 0 0 1 66,737.5" stroke="#f4f4f4" stroke-width="1" fill="none"/>
<circle cx="82" cy="737.3" r="1.8" fill="#d9d9d9" stroke="#454545" stroke-width="1.05" stroke-opacity="0.9"/>
<path d="M81.01,736.85 A1.08,1.08 0 0 1 82.54,736.31" stroke="#f4f4f4" stroke-width="1" fill="none"/>
<circle cx="101.6" cy="749.7" r="3.3" fill="#d9d9d9" stroke="#454545" stroke-width="1.05" stroke-opacity="0.9"/>
<path d="M99.78,748.88 A1.98,1.98 0 0 1 102.59,747.88" stroke="#f4f4f4" stroke-width="1" fill="none"/>
<circle cx="94.5" cy="756.9" r="3" fill="#d9d9d9" stroke="#454545" stroke-width="1.05" stroke-opacity="0.9"/>
<path d="M92.85,756.15 A1.8,1.8 0 0 1 95.4,755.25" stroke="#f4f4f4" stroke-width="1" fill="none"/>
<circle cx="85.6" cy="761.1" r="3" fill="#d9d9d9" stroke="#454545" stroke-width="1.05" stroke-opacity="0.9"/>
<path d="M83.95,760.35 A1.8,1.8 0 0 1 86.5,759.45" stroke="#f4f4f4" stroke-width="1" fill="none"/>
<circle cx="103.4" cy="756.1" r="3" fill="#d9d9d9" stroke="#454545" stroke-width="1.05" stroke-opacity="0.9"/>
<path d="M101.75,755.35 A1.8,1.8 0 0 1 104.3,754.45" stroke="#f4f4f4" stroke-width="1" fill="none"/>
<circle cx="140" cy="728" r="2.5" fill="#d9d9d9" stroke="#454545" stroke-width="1.05" stroke-opacity="0.9"/>
<path d="M138.62,727.38 A1.5,1.5 0 0 1 140.75,726.62" stroke="#f4f4f4" stroke-width="1" fill="none"/>
</svg>
<rect x="113.6" y="757" width="20.1" height="2.2" fill="#000" stroke="none" stroke-width="1"/>
<rect x="142.9" y="680.2" width="85.9" height="85.6" fill="#c3c3c3" stroke="none" stroke-width="1"/>
<svg x="142.9" y="680.2" width="85.9" height="85.6" viewBox="142.9 680.2 85.9 85.6" overflow="hidden">
<circle cx="216.96" cy="692.66" r="1.43" fill="#777"/>
<circle cx="217.16" cy="698.24" r="1.41" fill="#555"/>
<circle cx="218.28" cy="697.67" r="0.97" fill="#e0e0e0"/>
<circle cx="219.79" cy="696.83" r="1.13" fill="#222"/>
<circle cx="220.52" cy="695.74" r="1.09" fill="#e0e0e0"/>
<circle cx="218.47" cy="695.3" r="1.13" fill="#777"/>
<circle cx="220.2" cy="694.83" r="0.9" fill="#777"/>
<circle cx="218.9" cy="692.17" r="0.88" fill="#222"/>
<circle cx="218.53" cy="696.86" r="1.29" fill="#777"/>
<circle cx="222.58" cy="691.61" r="1.39" fill="#222"/>
<circle cx="220.82" cy="698.9" r="0.96" fill="#777"/>
<circle cx="220.56" cy="695.69" r="1.08" fill="#555"/>
<circle cx="221.71" cy="696.13" r="0.76" fill="#222"/>
<circle cx="221.09" cy="696.79" r="1.07" fill="#e0e0e0"/>
<circle cx="219.94" cy="698.55" r="1.16" fill="#555"/>
<circle cx="216.67" cy="689.71" r="1.07" fill="#e0e0e0"/>
<circle cx="218.85" cy="698.48" r="1.24" fill="#222"/>
<circle cx="224.52" cy="703.71" r="0.96" fill="#333"/>
<circle cx="218.21" cy="699.89" r="0.8" fill="#e0e0e0"/>
<circle cx="222.71" cy="700.67" r="1.43" fill="#333"/>
<circle cx="225.18" cy="705.79" r="0.88" fill="#333"/>
<circle cx="222.23" cy="705.33" r="0.72" fill="#777"/>
<circle cx="220.25" cy="698.34" r="0.75" fill="#333"/>
<circle cx="220.69" cy="698.04" r="0.72" fill="#e0e0e0"/>
<circle cx="223.03" cy="701.02" r="1.36" fill="#777"/>
<circle cx="219.99" cy="701.23" r="1.03" fill="#555"/>
<circle cx="221.9" cy="704.33" r="0.77" fill="#777"/>
<circle cx="224.8" cy="696.6" r="1.08" fill="#222"/>
<circle cx="223.73" cy="701.67" r="1" fill="#777"/>
<circle cx="223.15" cy="705.6" r="0.71" fill="#333"/>
<circle cx="224.48" cy="696.63" r="1.36" fill="#777"/>
<circle cx="217.85" cy="705.63" r="1.26" fill="#e0e0e0"/>
<circle cx="163.36" cy="730.87" r="0.76" fill="#e0e0e0"/>
<circle cx="160.61" cy="730.43" r="1.02" fill="#777"/>
<circle cx="159.73" cy="724.95" r="1.47" fill="#e0e0e0"/>
<circle cx="161.16" cy="728.85" r="1.32" fill="#e0e0e0"/>
<circle cx="159.7" cy="730.2" r="1.37" fill="#333"/>
<circle cx="166.43" cy="725.31" r="1.47" fill="#777"/>
<circle cx="161.82" cy="724.13" r="1.16" fill="#555"/>
<circle cx="161.99" cy="732.18" r="1.21" fill="#e0e0e0"/>
<circle cx="166.2" cy="724.5" r="1" fill="#333"/>
<circle cx="167.21" cy="726.49" r="1.33" fill="#e0e0e0"/>
<circle cx="165.15" cy="722.22" r="0.8" fill="#222"/>
<circle cx="165.61" cy="727.45" r="0.81" fill="#e0e0e0"/>
<circle cx="161.34" cy="728.1" r="1.38" fill="#222"/>
<circle cx="163.71" cy="731.36" r="1.21" fill="#e0e0e0"/>
<circle cx="166.67" cy="729" r="1" fill="#222"/>
<circle cx="162.05" cy="729.12" r="1.03" fill="#222"/>
<circle cx="166.44" cy="727.23" r="1.28" fill="#333"/>
<circle cx="171.38" cy="726.28" r="0.71" fill="#e0e0e0"/>
<circle cx="172.91" cy="724.08" r="0.72" fill="#555"/>
<circle cx="171.24" cy="726.37" r="1.16" fill="#777"/>
<circle cx="167.68" cy="722.28" r="1.18" fill="#e0e0e0"/>
<circle cx="171.58" cy="727.1" r="0.93" fill="#222"/>
<circle cx="167.12" cy="723.32" r="0.94" fill="#222"/>
<circle cx="170.35" cy="725.6" r="0.7" fill="#555"/>
<circle cx="166.57" cy="722.61" r="1.17" fill="#333"/>
<circle cx="172.7" cy="723.35" r="1.39" fill="#222"/>
<circle cx="172.53" cy="727.66" r="1.28" fill="#222"/>
<circle cx="167.45" cy="724.77" r="0.85" fill="#555"/>
<circle cx="170.2" cy="720.71" r="1.13" fill="#333"/>
<circle cx="168.2" cy="724.97" r="1.23" fill="#333"/>
<circle cx="168.31" cy="726.2" r="0.74" fill="#333"/>
<circle cx="166.08" cy="726.29" r="1" fill="#222"/>
<circle cx="164.6" cy="744.4" r="4.3" fill="#bdbdbd" stroke="#222" stroke-width="1.5"/>
<circle cx="171" cy="748.7" r="3" fill="#cfcfcf" fill-opacity="0.6" stroke="#3a3a3a" stroke-width="1.2" stroke-opacity="0.85"/>
<path d="M169.5,747.8 A1.8,1.8 0 0 1 172.05,747.2" stroke="#ededed" stroke-width="0.9" fill="none"/>
<circle cx="182.4" cy="758.6" r="3.5" fill="#cfcfcf" fill-opacity="0.6" stroke="#3a3a3a" stroke-width="1.2" stroke-opacity="0.85"/>
<path d="M180.65,757.55 A2.1,2.1 0 0 1 183.62,756.85" stroke="#ededed" stroke-width="0.9" fill="none"/>
<circle cx="195.2" cy="755.1" r="3.5" fill="#bdbdbd" stroke="#222" stroke-width="1.5"/>
<circle cx="208.4" cy="751.5" r="3.5" fill="#cfcfcf" fill-opacity="0.6" stroke="#3a3a3a" stroke-width="1.2" stroke-opacity="0.85"/>
<path d="M206.65,750.45 A2.1,2.1 0 0 1 209.62,749.75" stroke="#ededed" stroke-width="0.9" fill="none"/>
<circle cx="194.1" cy="762.2" r="2.5" fill="#cfcfcf" fill-opacity="0.6" stroke="#3a3a3a" stroke-width="1.2" stroke-opacity="0.85"/>
<path d="M192.85,761.45 A1.5,1.5 0 0 1 194.97,760.95" stroke="#ededed" stroke-width="0.9" fill="none"/>
<circle cx="195.5" cy="693.3" r="1" fill="#888" stroke="none"/>
<circle cx="185.5" cy="722" r="0.8" fill="#888" stroke="none"/>
</svg>
<rect x="202" y="757" width="19.7" height="2.2" fill="#000" stroke="none" stroke-width="1"/>
<defs><linearGradient id="g3" x1="0" y1="0" x2="1" y2="0"><stop offset="0" stop-color="#a9a9a9"/><stop offset="1" stop-color="#c6c6c6"/></linearGradient></defs>
<rect x="54.9" y="767.7" width="85.5" height="84.6" fill="url(#g3)" stroke="none" stroke-width="1"/>
<svg x="54.9" y="767.7" width="85.5" height="84.6" viewBox="54.9 767.7 85.5 84.6" overflow="hidden">
<circle cx="92.7" cy="774.6" r="5.5" fill="#cfcfcf" fill-opacity="0.6" stroke="#3a3a3a" stroke-width="1.2" stroke-opacity="0.85"/>
<path d="M89.95,772.95 A3.3,3.3 0 0 1 94.62,771.85" stroke="#ededed" stroke-width="0.9" fill="none"/>
<circle cx="109.8" cy="782.5" r="4.5" fill="#cfcfcf" fill-opacity="0.6" stroke="#3a3a3a" stroke-width="1.2" stroke-opacity="0.85"/>
<path d="M107.55,781.15 A2.7,2.7 0 0 1 111.38,780.25" stroke="#ededed" stroke-width="0.9" fill="none"/>
<circle cx="108.7" cy="769.3" r="2.5" fill="#cfcfcf" fill-opacity="0.6" stroke="#3a3a3a" stroke-width="1.2" stroke-opacity="0.85"/>
<path d="M107.45,768.55 A1.5,1.5 0 0 1 109.58,768.05" stroke="#ededed" stroke-width="0.9" fill="none"/>
<circle cx="69.6" cy="799.6" r="5" fill="#cfcfcf" fill-opacity="0.6" stroke="#3a3a3a" stroke-width="1.2" stroke-opacity="0.85"/>
<path d="M67.1,798.1 A3,3 0 0 1 71.35,797.1" stroke="#ededed" stroke-width="0.9" fill="none"/>
<circle cx="76.7" cy="796" r="3.5" fill="#cfcfcf" fill-opacity="0.6" stroke="#3a3a3a" stroke-width="1.2" stroke-opacity="0.85"/>
<path d="M74.95,794.95 A2.1,2.1 0 0 1 77.92,794.25" stroke="#ededed" stroke-width="0.9" fill="none"/>
<circle cx="80.2" cy="806.7" r="4" fill="#cfcfcf" fill-opacity="0.6" stroke="#3a3a3a" stroke-width="1.2" stroke-opacity="0.85"/>
<path d="M78.2,805.5 A2.4,2.4 0 0 1 81.6,804.7" stroke="#ededed" stroke-width="0.9" fill="none"/>
<circle cx="98" cy="815.6" r="5" fill="#cfcfcf" fill-opacity="0.6" stroke="#3a3a3a" stroke-width="1.2" stroke-opacity="0.85"/>
<path d="M95.5,814.1 A3,3 0 0 1 99.75,813.1" stroke="#ededed" stroke-width="0.9" fill="none"/>
<circle cx="62.5" cy="837" r="6" fill="#cfcfcf" fill-opacity="0.6" stroke="#3a3a3a" stroke-width="1.2" stroke-opacity="0.85"/>
<path d="M59.5,835.2 A3.6,3.6 0 0 1 64.6,834" stroke="#ededed" stroke-width="0.9" fill="none"/>
<circle cx="89.1" cy="844" r="4.5" fill="#cfcfcf" fill-opacity="0.6" stroke="#3a3a3a" stroke-width="1.2" stroke-opacity="0.85"/>
<path d="M86.85,842.65 A2.7,2.7 0 0 1 90.67,841.75" stroke="#ededed" stroke-width="0.9" fill="none"/>
<circle cx="99.8" cy="845.1" r="4.5" fill="#cfcfcf" fill-opacity="0.6" stroke="#3a3a3a" stroke-width="1.2" stroke-opacity="0.85"/>
<path d="M97.55,843.75 A2.7,2.7 0 0 1 101.38,842.85" stroke="#ededed" stroke-width="0.9" fill="none"/>
<circle cx="78.5" cy="851.2" r="3.5" fill="#cfcfcf" fill-opacity="0.6" stroke="#3a3a3a" stroke-width="1.2" stroke-opacity="0.85"/>
<path d="M76.75,850.15 A2.1,2.1 0 0 1 79.72,849.45" stroke="#ededed" stroke-width="0.9" fill="none"/>
<circle cx="139" cy="842.3" r="4" fill="#cfcfcf" fill-opacity="0.6" stroke="#3a3a3a" stroke-width="1.2" stroke-opacity="0.85"/>
<path d="M137,841.1 A2.4,2.4 0 0 1 140.4,840.3" stroke="#ededed" stroke-width="0.9" fill="none"/>
</svg>
<rect x="114" y="843.9" width="19.5" height="2.2" fill="#000" stroke="none" stroke-width="1"/>
<defs><linearGradient id="g4" x1="1" y1="0" x2="0" y2="1"><stop offset="0" stop-color="#c8c8c8"/><stop offset="1" stop-color="#a8a8a8"/></linearGradient></defs>
<rect x="143.1" y="767.7" width="85.7" height="84.6" fill="url(#g4)" stroke="none" stroke-width="1"/>
<svg x="143.1" y="767.7" width="85.7" height="84.6" viewBox="143.1 767.7 85.7 84.6" overflow="hidden">
<circle cx="210.1" cy="780.7" r="4.5" fill="#cfcfcf" fill-opacity="0.6" stroke="#3a3a3a" stroke-width="1.2" stroke-opacity="0.85"/>
<path d="M207.85,779.35 A2.7,2.7 0 0 1 211.67,778.45" stroke="#ededed" stroke-width="0.9" fill="none"/>
<circle cx="150.7" cy="788.9" r="4.5" fill="#cfcfcf" fill-opacity="0.6" stroke="#3a3a3a" stroke-width="1.2" stroke-opacity="0.85"/>
<path d="M148.45,787.55 A2.7,2.7 0 0 1 152.27,786.65" stroke="#ededed" stroke-width="0.9" fill="none"/>
<circle cx="163.9" cy="781.8" r="3" fill="#cfcfcf" fill-opacity="0.6" stroke="#3a3a3a" stroke-width="1.2" stroke-opacity="0.85"/>
<path d="M162.4,780.9 A1.8,1.8 0 0 1 164.95,780.3" stroke="#ededed" stroke-width="0.9" fill="none"/>
<circle cx="171" cy="793.1" r="4.5" fill="#cfcfcf" fill-opacity="0.6" stroke="#3a3a3a" stroke-width="1.2" stroke-opacity="0.85"/>
<path d="M168.75,791.75 A2.7,2.7 0 0 1 172.57,790.85" stroke="#ededed" stroke-width="0.9" fill="none"/>
<circle cx="188.8" cy="796" r="5" fill="#cfcfcf" fill-opacity="0.6" stroke="#3a3a3a" stroke-width="1.2" stroke-opacity="0.85"/>
<path d="M186.3,794.5 A3,3 0 0 1 190.55,793.5" stroke="#ededed" stroke-width="0.9" fill="none"/>
<circle cx="215.5" cy="796" r="4" fill="#cfcfcf" fill-opacity="0.6" stroke="#3a3a3a" stroke-width="1.2" stroke-opacity="0.85"/>
<path d="M213.5,794.8 A2.4,2.4 0 0 1 216.9,794" stroke="#ededed" stroke-width="0.9" fill="none"/>
<circle cx="211.9" cy="802.4" r="4.5" fill="#cfcfcf" fill-opacity="0.6" stroke="#3a3a3a" stroke-width="1.2" stroke-opacity="0.85"/>
<path d="M209.65,801.05 A2.7,2.7 0 0 1 213.47,800.15" stroke="#ededed" stroke-width="0.9" fill="none"/>
<circle cx="220.1" cy="803.8" r="4" fill="#cfcfcf" fill-opacity="0.6" stroke="#3a3a3a" stroke-width="1.2" stroke-opacity="0.85"/>
<path d="M218.1,802.6 A2.4,2.4 0 0 1 221.5,801.8" stroke="#ededed" stroke-width="0.9" fill="none"/>
<circle cx="147.9" cy="806" r="4" fill="#cfcfcf" fill-opacity="0.6" stroke="#3a3a3a" stroke-width="1.2" stroke-opacity="0.85"/>
<path d="M145.9,804.8 A2.4,2.4 0 0 1 149.3,804" stroke="#ededed" stroke-width="0.9" fill="none"/>
<circle cx="185.2" cy="811.3" r="4.5" fill="#bdbdbd" stroke="#222" stroke-width="1.5"/>
<circle cx="194.1" cy="806.7" r="4.5" fill="#cfcfcf" fill-opacity="0.6" stroke="#3a3a3a" stroke-width="1.2" stroke-opacity="0.85"/>
<path d="M191.85,805.35 A2.7,2.7 0 0 1 195.67,804.45" stroke="#ededed" stroke-width="0.9" fill="none"/>
<circle cx="206.6" cy="812" r="5" fill="#cfcfcf" fill-opacity="0.6" stroke="#3a3a3a" stroke-width="1.2" stroke-opacity="0.85"/>
<path d="M204.1,810.5 A3,3 0 0 1 208.35,809.5" stroke="#ededed" stroke-width="0.9" fill="none"/>
<circle cx="208.4" cy="822.7" r="4.5" fill="#cfcfcf" fill-opacity="0.6" stroke="#3a3a3a" stroke-width="1.2" stroke-opacity="0.85"/>
<path d="M206.15,821.35 A2.7,2.7 0 0 1 209.97,820.45" stroke="#ededed" stroke-width="0.9" fill="none"/>
<circle cx="206.6" cy="836.9" r="3.5" fill="#cfcfcf" fill-opacity="0.6" stroke="#3a3a3a" stroke-width="1.2" stroke-opacity="0.85"/>
<path d="M204.85,835.85 A2.1,2.1 0 0 1 207.82,835.15" stroke="#ededed" stroke-width="0.9" fill="none"/>
<circle cx="195.9" cy="845.8" r="5" fill="#bdbdbd" stroke="#222" stroke-width="1.5"/>
<circle cx="224.4" cy="845.1" r="4" fill="#cfcfcf" fill-opacity="0.6" stroke="#3a3a3a" stroke-width="1.2" stroke-opacity="0.85"/>
<path d="M222.4,843.9 A2.4,2.4 0 0 1 225.8,843.1" stroke="#ededed" stroke-width="0.9" fill="none"/>
</svg>
<rect x="202" y="843.9" width="19.7" height="2.2" fill="#000" stroke="none" stroke-width="1"/>
<line x1="305.6" y1="119.5" x2="473.5" y2="119.5" stroke="#8a8a8a" stroke-width="0.9" />
<line x1="303.4" y1="119.5" x2="305.6" y2="119.5" stroke="#8a8a8a" stroke-width="0.9" />
<text x="295.31" y="122.22" font-size="7.3" font-weight="normal" textLength="4.34" lengthAdjust="spacingAndGlyphs" fill="#1a1a1a">0</text>
<line x1="305.6" y1="104.5" x2="473.5" y2="104.5" stroke="#8a8a8a" stroke-width="0.9" />
<line x1="303.4" y1="104.5" x2="305.6" y2="104.5" stroke="#8a8a8a" stroke-width="0.9" />
<text x="293.11" y="107.39" font-size="7.3" font-weight="normal" textLength="8.69" lengthAdjust="spacingAndGlyphs" fill="#1a1a1a">20</text>
<line x1="305.6" y1="89.5" x2="473.5" y2="89.5" stroke="#8a8a8a" stroke-width="0.9" />
<line x1="303.4" y1="89.5" x2="305.6" y2="89.5" stroke="#8a8a8a" stroke-width="0.9" />
<text x="293.22" y="92.56" font-size="7.3" font-weight="normal" textLength="8.69" lengthAdjust="spacingAndGlyphs" fill="#1a1a1a">40</text>
<line x1="305.6" y1="74.5" x2="473.5" y2="74.5" stroke="#8a8a8a" stroke-width="0.9" />
<line x1="303.4" y1="74.5" x2="305.6" y2="74.5" stroke="#8a8a8a" stroke-width="0.9" />
<text x="293.11" y="77.73" font-size="7.3" font-weight="normal" textLength="8.69" lengthAdjust="spacingAndGlyphs" fill="#1a1a1a">60</text>
<line x1="305.6" y1="60.5" x2="473.5" y2="60.5" stroke="#8a8a8a" stroke-width="0.9" />
<line x1="303.4" y1="60.5" x2="305.6" y2="60.5" stroke="#8a8a8a" stroke-width="0.9" />
<text x="293.13" y="62.91" font-size="7.3" font-weight="normal" textLength="8.69" lengthAdjust="spacingAndGlyphs" fill="#1a1a1a">80</text>
<line x1="305.6" y1="45.5" x2="473.5" y2="45.5" stroke="#8a8a8a" stroke-width="0.9" />
<line x1="303.4" y1="45.5" x2="305.6" y2="45.5" stroke="#8a8a8a" stroke-width="0.9" />
<text x="290.84" y="48.08" font-size="7.3" font-weight="normal" textLength="13.03" lengthAdjust="spacingAndGlyphs" fill="#1a1a1a">100</text>
<line x1="305.6" y1="30.5" x2="473.5" y2="30.5" stroke="#8a8a8a" stroke-width="0.9" />
<line x1="303.4" y1="30.5" x2="305.6" y2="30.5" stroke="#8a8a8a" stroke-width="0.9" />
<text x="290.84" y="33.25" font-size="7.3" font-weight="normal" textLength="13.03" lengthAdjust="spacingAndGlyphs" fill="#1a1a1a">120</text>
<line x1="305.6" y1="15.5" x2="473.5" y2="15.5" stroke="#8a8a8a" stroke-width="0.9" />
<line x1="303.4" y1="15.5" x2="305.6" y2="15.5" stroke="#8a8a8a" stroke-width="0.9" />
<text x="290.84" y="18.42" font-size="7.3" font-weight="normal" textLength="13.03" lengthAdjust="spacingAndGlyphs" fill="#1a1a1a">140</text>
<line x1="473.5" y1="15.6" x2="473.5" y2="119.4" stroke="#8a8a8a" stroke-width="0.9" />
<line x1="305.6" y1="15.6" x2="305.6" y2="120.4" stroke="#9a9a9a" stroke-width="1.8" />
<line x1="305.6" y1="119.4" x2="473.5" y2="119.4" stroke="#9a9a9a" stroke-width="1.6" />
<line x1="329.5" y1="119.4" x2="329.5" y2="121.6" stroke="#8a8a8a" stroke-width="0.9" />
<line x1="353.5" y1="119.4" x2="353.5" y2="121.6" stroke="#8a8a8a" stroke-width="0.9" />
<line x1="377.5" y1="119.4" x2="377.5" y2="121.6" stroke="#8a8a8a" stroke-width="0.9" />
<line x1="401.5" y1="119.4" x2="401.5" y2="121.6" stroke="#8a8a8a" stroke-width="0.9" />
<line x1="425.5" y1="119.4" x2="425.5" y2="121.6" stroke="#8a8a8a" stroke-width="0.9" />
<line x1="449.5" y1="119.4" x2="449.5" y2="121.6" stroke="#8a8a8a" stroke-width="0.9" />
<text x="318.13" y="130.28" font-size="8.2" font-weight="normal" textLength="5.11" lengthAdjust="spacingAndGlyphs" fill="#1a1a1a">0</text>
<text x="336.22" y="130.28" font-size="8.2" font-weight="normal" textLength="10.22" lengthAdjust="spacingAndGlyphs" fill="#1a1a1a">10</text>
<text x="361.13" y="130.28" font-size="8.2" font-weight="normal" textLength="10.22" lengthAdjust="spacingAndGlyphs" fill="#1a1a1a">20</text>
<text x="385.37" y="130.28" font-size="8.2" font-weight="normal" textLength="10.22" lengthAdjust="spacingAndGlyphs" fill="#1a1a1a">40</text>
<text x="409.03" y="130.28" font-size="8.2" font-weight="normal" textLength="10.22" lengthAdjust="spacingAndGlyphs" fill="#1a1a1a">60</text>
<text x="432.76" y="130.28" font-size="8.2" font-weight="normal" textLength="10.22" lengthAdjust="spacingAndGlyphs" fill="#1a1a1a">80</text>
<text x="453.47" y="130.28" font-size="8.2" font-weight="normal" textLength="15.32" lengthAdjust="spacingAndGlyphs" fill="#1a1a1a">100</text>
<text x="473.81" y="129.82" font-size="8.24" font-weight="normal" textLength="42.61" lengthAdjust="spacingAndGlyphs" fill="#1a1a1a">BZM [nM]</text>
<line x1="317.6" y1="24.87" x2="317.6" y2="44.15" stroke="#999" stroke-width="0.75" />
<line x1="316.8" y1="24.87" x2="318.4" y2="24.87" stroke="#999" stroke-width="0.75" />
<line x1="316.8" y1="44.15" x2="318.4" y2="44.15" stroke="#999" stroke-width="0.75" />
<line x1="341.55" y1="17.98" x2="341.55" y2="47.63" stroke="#999" stroke-width="0.75" />
<line x1="340.75" y1="17.98" x2="342.35" y2="17.98" stroke="#999" stroke-width="0.75" />
<line x1="340.75" y1="47.63" x2="342.35" y2="47.63" stroke="#999" stroke-width="0.75" />
<line x1="365.5" y1="26.5" x2="365.5" y2="44.3" stroke="#999" stroke-width="0.75" />
<line x1="364.7" y1="26.5" x2="366.3" y2="26.5" stroke="#999" stroke-width="0.75" />
<line x1="364.7" y1="44.3" x2="366.3" y2="44.3" stroke="#999" stroke-width="0.75" />
<line x1="389.45" y1="25.24" x2="389.45" y2="38.59" stroke="#999" stroke-width="0.75" />
<line x1="388.65" y1="25.24" x2="390.25" y2="25.24" stroke="#999" stroke-width="0.75" />
<line x1="388.65" y1="38.59" x2="390.25" y2="38.59" stroke="#999" stroke-width="0.75" />
<line x1="413.4" y1="40.29" x2="413.4" y2="84.78" stroke="#999" stroke-width="0.75" />
<line x1="412.6" y1="40.29" x2="414.2" y2="40.29" stroke="#999" stroke-width="0.75" />
<line x1="412.6" y1="84.78" x2="414.2" y2="84.78" stroke="#999" stroke-width="0.75" />
<line x1="437.35" y1="56.75" x2="437.35" y2="101.24" stroke="#999" stroke-width="0.75" />
<line x1="436.55" y1="56.75" x2="438.15" y2="56.75" stroke="#999" stroke-width="0.75" />
<line x1="436.55" y1="101.24" x2="438.15" y2="101.24" stroke="#999" stroke-width="0.75" />
<line x1="461.3" y1="75.88" x2="461.3" y2="105.54" stroke="#999" stroke-width="0.75" />
<line x1="460.5" y1="75.88" x2="462.1" y2="75.88" stroke="#999" stroke-width="0.75" />
<line x1="460.5" y1="105.54" x2="462.1" y2="105.54" stroke="#999" stroke-width="0.75" />
<line x1="389.45" y1="71.95" x2="389.45" y2="91.23" stroke="#999" stroke-width="0.75" />
<line x1="388.65" y1="71.95" x2="390.25" y2="71.95" stroke="#999" stroke-width="0.75" />
<line x1="388.65" y1="91.23" x2="390.25" y2="91.23" stroke="#999" stroke-width="0.75" />
<line x1="413.4" y1="101.01" x2="413.4" y2="109.91" stroke="#999" stroke-width="0.75" />
<line x1="412.6" y1="101.01" x2="414.2" y2="101.01" stroke="#999" stroke-width="0.75" />
<line x1="412.6" y1="109.91" x2="414.2" y2="109.91" stroke="#999" stroke-width="0.75" />
<line x1="341.55" y1="40.07" x2="341.55" y2="63.8" stroke="#999" stroke-width="0.75" />
<line x1="340.75" y1="40.07" x2="342.35" y2="40.07" stroke="#999" stroke-width="0.75" />
<line x1="340.75" y1="63.8" x2="342.35" y2="63.8" stroke="#999" stroke-width="0.75" />
<line x1="317.6" y1="37.85" x2="317.6" y2="52.67" stroke="#999" stroke-width="0.75" />
<line x1="316.8" y1="37.85" x2="318.4" y2="37.85" stroke="#999" stroke-width="0.75" />
<line x1="316.8" y1="52.67" x2="318.4" y2="52.67" stroke="#999" stroke-width="0.75" />
<polyline points="317.6,34.5 341.55,32.5 365.5,35.5 389.45,31.5 413.4,62.5 437.35,78.5 461.3,90.5" stroke="#3a3a3a" stroke-width="1" fill="none" stroke-linejoin="round" />
<polyline points="317.6,35.5 341.55,25.5 365.5,35.5 389.45,81.5 413.4,105.5 437.35,113.5 461.3,113.5" stroke="#2a2a2a" stroke-width="1" fill="none" stroke-linejoin="round" />
<polyline points="317.6,36.5 341.55,38.5 365.5,65.5 389.45,117.5 413.4,117.5 437.35,117.5 461.3,117.5" stroke="#1a1a1a" stroke-width="1.1" fill="none" stroke-linejoin="round" />
<polyline points="317.6,37.5 341.55,51.5 365.5,113.5 389.45,117.5 413.4,117.5 437.35,117.5 461.3,117.5" stroke="#1a1a1a" stroke-width="1.1" fill="none" stroke-linejoin="round" />
<polyline points="317.6,45.5 341.55,115.5 365.5,118.5 389.45,118.5 413.4,118.5 437.35,118.5 461.3,118.5" stroke="#1a1a1a" stroke-width="1.1" fill="none" stroke-linejoin="round" />
<circle cx="317.6" cy="34.5" r="2.5" fill="#f2f2f2" stroke="#777" stroke-width="0.9"/>
<circle cx="341.55" cy="32.5" r="2.5" fill="#f2f2f2" stroke="#777" stroke-width="0.9"/>
<circle cx="365.5" cy="35.5" r="2.5" fill="#f2f2f2" stroke="#777" stroke-width="0.9"/>
<circle cx="389.45" cy="31.5" r="2.5" fill="#f2f2f2" stroke="#777" stroke-width="0.9"/>
<circle cx="413.4" cy="62.5" r="2.5" fill="#f2f2f2" stroke="#777" stroke-width="0.9"/>
<circle cx="437.35" cy="78.5" r="2.5" fill="#f2f2f2" stroke="#777" stroke-width="0.9"/>
<circle cx="461.3" cy="90.5" r="2.5" fill="#f2f2f2" stroke="#777" stroke-width="0.9"/>
<line x1="316.1" y1="34" x2="319.1" y2="37" stroke="#999" stroke-width="0.7" />
<line x1="316.1" y1="37" x2="319.1" y2="34" stroke="#999" stroke-width="0.7" />
<line x1="340.05" y1="24" x2="343.05" y2="27" stroke="#999" stroke-width="0.7" />
<line x1="340.05" y1="27" x2="343.05" y2="24" stroke="#999" stroke-width="0.7" />
<line x1="364" y1="34" x2="367" y2="37" stroke="#999" stroke-width="0.7" />
<line x1="364" y1="37" x2="367" y2="34" stroke="#999" stroke-width="0.7" />
<line x1="387.95" y1="80" x2="390.95" y2="83" stroke="#999" stroke-width="0.7" />
<line x1="387.95" y1="83" x2="390.95" y2="80" stroke="#999" stroke-width="0.7" />
<line x1="411.9" y1="104" x2="414.9" y2="107" stroke="#999" stroke-width="0.7" />
<line x1="411.9" y1="107" x2="414.9" y2="104" stroke="#999" stroke-width="0.7" />
<line x1="435.85" y1="112" x2="438.85" y2="115" stroke="#999" stroke-width="0.7" />
<line x1="435.85" y1="115" x2="438.85" y2="112" stroke="#999" stroke-width="0.7" />
<line x1="459.8" y1="112" x2="462.8" y2="115" stroke="#999" stroke-width="0.7" />
<line x1="459.8" y1="115" x2="462.8" y2="112" stroke="#999" stroke-width="0.7" />
<polygon points="317.6,34.09 319.9,38.11 315.3,38.11" fill="#000"/>
<polygon points="341.55,36.09 343.85,40.11 339.25,40.11" fill="#000"/>
<polygon points="365.5,63.09 367.8,67.11 363.2,67.11" fill="#000"/>
<polygon points="389.45,115.08 391.75,119.11 387.15,119.11" fill="#000"/>
<polygon points="413.4,115.08 415.7,119.11 411.1,119.11" fill="#000"/>
<polygon points="437.35,115.08 439.65,119.11 435.05,119.11" fill="#000"/>
<polygon points="461.3,115.08 463.6,119.11 459,119.11" fill="#000"/>
<rect x="315.55" y="35.45" width="4.1" height="4.1" fill="#000" stroke="none" stroke-width="1"/>
<rect x="339.5" y="49.45" width="4.1" height="4.1" fill="#000" stroke="none" stroke-width="1"/>
<rect x="363.45" y="111.45" width="4.1" height="4.1" fill="#000" stroke="none" stroke-width="1"/>
<rect x="387.4" y="115.45" width="4.1" height="4.1" fill="#000" stroke="none" stroke-width="1"/>
<rect x="411.35" y="115.45" width="4.1" height="4.1" fill="#000" stroke="none" stroke-width="1"/>
<rect x="435.3" y="115.45" width="4.1" height="4.1" fill="#000" stroke="none" stroke-width="1"/>
<rect x="459.25" y="115.45" width="4.1" height="4.1" fill="#000" stroke="none" stroke-width="1"/>
<polygon points="317.6,43.15 319.95,45.5 317.6,47.85 315.25,45.5" fill="#000"/>
<polygon points="341.55,113.15 343.9,115.5 341.55,117.85 339.2,115.5" fill="#000"/>
<polygon points="365.5,116.15 367.85,118.5 365.5,120.85 363.15,118.5" fill="#000"/>
<polygon points="389.45,116.15 391.8,118.5 389.45,120.85 387.1,118.5" fill="#000"/>
<polygon points="413.4,116.15 415.75,118.5 413.4,120.85 411.05,118.5" fill="#000"/>
<polygon points="437.35,116.15 439.7,118.5 437.35,120.85 435,118.5" fill="#000"/>
<polygon points="461.3,116.15 463.65,118.5 461.3,120.85 458.95,118.5" fill="#000"/>
<rect x="412.5" y="18.5" width="58" height="16" fill="#fff" stroke="#777" stroke-width="0.9"/>
<text x="415.33" y="28.81" font-size="8.98" font-weight="normal" textLength="51.84" lengthAdjust="spacingAndGlyphs" fill="#1a1a1a">8226 – 48h</text>
<rect x="476.5" y="15.5" width="38" height="79" fill="#fff" stroke="#777" stroke-width="0.9"/>
<line x1="479.3" y1="23.5" x2="497.5" y2="23.5" stroke="#555" stroke-width="0.8" />
<polygon points="488.5,20.95 490.85,23.3 488.5,25.65 486.15,23.3" fill="#000"/>
<text x="499.2" y="26.13" font-size="8.2" textLength="5.47" lengthAdjust="spacingAndGlyphs" fill="#1a1a1a">0</text>
<line x1="479.3" y1="39.5" x2="497.5" y2="39.5" stroke="#555" stroke-width="0.8" />
<rect x="486.45" y="37.05" width="4.1" height="4.1" fill="#000" stroke="none" stroke-width="1"/>
<text x="499.2" y="41.93" font-size="8.2" textLength="13.68" lengthAdjust="spacingAndGlyphs" fill="#1a1a1a">2.5</text>
<line x1="479.3" y1="54.5" x2="497.5" y2="54.5" stroke="#555" stroke-width="0.8" />
<polygon points="488.5,52.49 490.8,56.51 486.2,56.51" fill="#000"/>
<text x="499.2" y="57.69" font-size="8.2" textLength="5.47" lengthAdjust="spacingAndGlyphs" fill="#1a1a1a">5</text>
<line x1="479.3" y1="70.5" x2="497.5" y2="70.5" stroke="#aaa" stroke-width="0.8" />
<line x1="487" y1="69.2" x2="490" y2="72.2" stroke="#999" stroke-width="0.7" />
<line x1="487" y1="72.2" x2="490" y2="69.2" stroke="#999" stroke-width="0.7" />
<text x="499.2" y="73.53" font-size="8.2" textLength="10.95" lengthAdjust="spacingAndGlyphs" fill="#1a1a1a">10</text>
<line x1="479.3" y1="86.5" x2="497.5" y2="86.5" stroke="#888" stroke-width="0.8" />
<circle cx="488.5" cy="86.5" r="2.5" fill="#f2f2f2" stroke="#777" stroke-width="0.9"/>
<text x="499.2" y="89.33" font-size="8.2" textLength="10.95" lengthAdjust="spacingAndGlyphs" fill="#1a1a1a">20</text>
<text x="461.43" y="9.98" font-size="9.5" textLength="53.07" lengthAdjust="spacingAndGlyphs" fill="#1a1a1a">EGCG [<tspan font-style="italic">μ</tspan>M]</text>
<text x="0" y="0" transform="translate(282.87,104.53) rotate(-90)" font-size="8.8" textLength="61.93" lengthAdjust="spacingAndGlyphs" fill="#1a1a1a">% Cell Viability</text>
<line x1="305.6" y1="261.5" x2="473.5" y2="261.5" stroke="#8a8a8a" stroke-width="0.9" />
<line x1="303.4" y1="261.5" x2="305.6" y2="261.5" stroke="#8a8a8a" stroke-width="0.9" />
<text x="295.31" y="264.32" font-size="7.3" font-weight="normal" textLength="4.34" lengthAdjust="spacingAndGlyphs" fill="#1a1a1a">0</text>
<line x1="305.6" y1="246.5" x2="473.5" y2="246.5" stroke="#8a8a8a" stroke-width="0.9" />
<line x1="303.4" y1="246.5" x2="305.6" y2="246.5" stroke="#8a8a8a" stroke-width="0.9" />
<text x="293.11" y="249.53" font-size="7.3" font-weight="normal" textLength="8.69" lengthAdjust="spacingAndGlyphs" fill="#1a1a1a">20</text>
<line x1="305.6" y1="231.5" x2="473.5" y2="231.5" stroke="#8a8a8a" stroke-width="0.9" />
<line x1="303.4" y1="231.5" x2="305.6" y2="231.5" stroke="#8a8a8a" stroke-width="0.9" />
<text x="293.22" y="234.75" font-size="7.3" font-weight="normal" textLength="8.69" lengthAdjust="spacingAndGlyphs" fill="#1a1a1a">40</text>
<line x1="305.6" y1="217.5" x2="473.5" y2="217.5" stroke="#8a8a8a" stroke-width="0.9" />
<line x1="303.4" y1="217.5" x2="305.6" y2="217.5" stroke="#8a8a8a" stroke-width="0.9" />
<text x="293.11" y="219.96" font-size="7.3" font-weight="normal" textLength="8.69" lengthAdjust="spacingAndGlyphs" fill="#1a1a1a">60</text>
<line x1="305.6" y1="202.5" x2="473.5" y2="202.5" stroke="#8a8a8a" stroke-width="0.9" />
<line x1="303.4" y1="202.5" x2="305.6" y2="202.5" stroke="#8a8a8a" stroke-width="0.9" />
<text x="293.13" y="205.17" font-size="7.3" font-weight="normal" textLength="8.69" lengthAdjust="spacingAndGlyphs" fill="#1a1a1a">80</text>
<line x1="305.6" y1="187.5" x2="473.5" y2="187.5" stroke="#8a8a8a" stroke-width="0.9" />
<line x1="303.4" y1="187.5" x2="305.6" y2="187.5" stroke="#8a8a8a" stroke-width="0.9" />
<text x="290.84" y="190.39" font-size="7.3" font-weight="normal" textLength="13.03" lengthAdjust="spacingAndGlyphs" fill="#1a1a1a">100</text>
<line x1="305.6" y1="172.5" x2="473.5" y2="172.5" stroke="#8a8a8a" stroke-width="0.9" />
<line x1="303.4" y1="172.5" x2="305.6" y2="172.5" stroke="#8a8a8a" stroke-width="0.9" />
<text x="290.84" y="175.6" font-size="7.3" font-weight="normal" textLength="13.03" lengthAdjust="spacingAndGlyphs" fill="#1a1a1a">120</text>
<line x1="305.6" y1="157.5" x2="473.5" y2="157.5" stroke="#8a8a8a" stroke-width="0.9" />
<line x1="303.4" y1="157.5" x2="305.6" y2="157.5" stroke="#8a8a8a" stroke-width="0.9" />
<text x="290.84" y="160.82" font-size="7.3" font-weight="normal" textLength="13.03" lengthAdjust="spacingAndGlyphs" fill="#1a1a1a">140</text>
<line x1="473.5" y1="158" x2="473.5" y2="261.5" stroke="#8a8a8a" stroke-width="0.9" />
<line x1="305.6" y1="158" x2="305.6" y2="262.5" stroke="#9a9a9a" stroke-width="1.8" />
<line x1="305.6" y1="261.5" x2="473.5" y2="261.5" stroke="#9a9a9a" stroke-width="1.6" />
<line x1="329.5" y1="261.5" x2="329.5" y2="263.7" stroke="#8a8a8a" stroke-width="0.9" />
<line x1="353.5" y1="261.5" x2="353.5" y2="263.7" stroke="#8a8a8a" stroke-width="0.9" />
<line x1="377.5" y1="261.5" x2="377.5" y2="263.7" stroke="#8a8a8a" stroke-width="0.9" />
<line x1="401.5" y1="261.5" x2="401.5" y2="263.7" stroke="#8a8a8a" stroke-width="0.9" />
<line x1="425.5" y1="261.5" x2="425.5" y2="263.7" stroke="#8a8a8a" stroke-width="0.9" />
<line x1="449.5" y1="261.5" x2="449.5" y2="263.7" stroke="#8a8a8a" stroke-width="0.9" />
<text x="318.13" y="272.63" font-size="8.2" font-weight="normal" textLength="5.11" lengthAdjust="spacingAndGlyphs" fill="#1a1a1a">0</text>
<text x="336.22" y="272.63" font-size="8.2" font-weight="normal" textLength="10.22" lengthAdjust="spacingAndGlyphs" fill="#1a1a1a">10</text>
<text x="361.13" y="272.63" font-size="8.2" font-weight="normal" textLength="10.22" lengthAdjust="spacingAndGlyphs" fill="#1a1a1a">20</text>
<text x="385.37" y="272.63" font-size="8.2" font-weight="normal" textLength="10.22" lengthAdjust="spacingAndGlyphs" fill="#1a1a1a">40</text>
<text x="409.03" y="272.63" font-size="8.2" font-weight="normal" textLength="10.22" lengthAdjust="spacingAndGlyphs" fill="#1a1a1a">60</text>
<text x="432.76" y="272.63" font-size="8.2" font-weight="normal" textLength="10.22" lengthAdjust="spacingAndGlyphs" fill="#1a1a1a">80</text>
<text x="453.47" y="272.63" font-size="8.2" font-weight="normal" textLength="15.32" lengthAdjust="spacingAndGlyphs" fill="#1a1a1a">100</text>
<text x="473.81" y="272.17" font-size="8.24" font-weight="normal" textLength="42.61" lengthAdjust="spacingAndGlyphs" fill="#1a1a1a">BZM [nM]</text>
<line x1="317.6" y1="198.73" x2="317.6" y2="206.13" stroke="#999" stroke-width="0.75" />
<line x1="316.8" y1="198.73" x2="318.4" y2="198.73" stroke="#999" stroke-width="0.75" />
<line x1="316.8" y1="206.13" x2="318.4" y2="206.13" stroke="#999" stroke-width="0.75" />
<line x1="341.55" y1="197.92" x2="341.55" y2="206.79" stroke="#999" stroke-width="0.75" />
<line x1="340.75" y1="197.92" x2="342.35" y2="197.92" stroke="#999" stroke-width="0.75" />
<line x1="340.75" y1="206.79" x2="342.35" y2="206.79" stroke="#999" stroke-width="0.75" />
<line x1="365.5" y1="201.17" x2="365.5" y2="208.57" stroke="#999" stroke-width="0.75" />
<line x1="364.7" y1="201.17" x2="366.3" y2="201.17" stroke="#999" stroke-width="0.75" />
<line x1="364.7" y1="208.57" x2="366.3" y2="208.57" stroke="#999" stroke-width="0.75" />
<line x1="389.45" y1="206.79" x2="389.45" y2="221.58" stroke="#999" stroke-width="0.75" />
<line x1="388.65" y1="206.79" x2="390.25" y2="206.79" stroke="#999" stroke-width="0.75" />
<line x1="388.65" y1="221.58" x2="390.25" y2="221.58" stroke="#999" stroke-width="0.75" />
<line x1="413.4" y1="210.93" x2="413.4" y2="225.72" stroke="#999" stroke-width="0.75" />
<line x1="412.6" y1="210.93" x2="414.2" y2="210.93" stroke="#999" stroke-width="0.75" />
<line x1="412.6" y1="225.72" x2="414.2" y2="225.72" stroke="#999" stroke-width="0.75" />
<line x1="437.35" y1="221.73" x2="437.35" y2="230.6" stroke="#999" stroke-width="0.75" />
<line x1="436.55" y1="221.73" x2="438.15" y2="221.73" stroke="#999" stroke-width="0.75" />
<line x1="436.55" y1="230.6" x2="438.15" y2="230.6" stroke="#999" stroke-width="0.75" />
<line x1="461.3" y1="227.49" x2="461.3" y2="237.84" stroke="#999" stroke-width="0.75" />
<line x1="460.5" y1="227.49" x2="462.1" y2="227.49" stroke="#999" stroke-width="0.75" />
<line x1="460.5" y1="237.84" x2="462.1" y2="237.84" stroke="#999" stroke-width="0.75" />
<line x1="317.6" y1="161.92" x2="317.6" y2="182.62" stroke="#999" stroke-width="0.75" />
<line x1="316.8" y1="161.92" x2="318.4" y2="161.92" stroke="#999" stroke-width="0.75" />
<line x1="316.8" y1="182.62" x2="318.4" y2="182.62" stroke="#999" stroke-width="0.75" />
<line x1="341.55" y1="176.48" x2="341.55" y2="186.83" stroke="#999" stroke-width="0.75" />
<line x1="340.75" y1="176.48" x2="342.35" y2="176.48" stroke="#999" stroke-width="0.75" />
<line x1="340.75" y1="186.83" x2="342.35" y2="186.83" stroke="#999" stroke-width="0.75" />
<line x1="389.45" y1="238.88" x2="389.45" y2="244.79" stroke="#999" stroke-width="0.75" />
<line x1="388.65" y1="238.88" x2="390.25" y2="238.88" stroke="#999" stroke-width="0.75" />
<line x1="388.65" y1="244.79" x2="390.25" y2="244.79" stroke="#999" stroke-width="0.75" />
<line x1="413.4" y1="245.83" x2="413.4" y2="251.74" stroke="#999" stroke-width="0.75" />
<line x1="412.6" y1="245.83" x2="414.2" y2="245.83" stroke="#999" stroke-width="0.75" />
<line x1="412.6" y1="251.74" x2="414.2" y2="251.74" stroke="#999" stroke-width="0.75" />
<line x1="437.35" y1="243.54" x2="437.35" y2="249.45" stroke="#999" stroke-width="0.75" />
<line x1="436.55" y1="243.54" x2="438.15" y2="243.54" stroke="#999" stroke-width="0.75" />
<line x1="436.55" y1="249.45" x2="438.15" y2="249.45" stroke="#999" stroke-width="0.75" />
<line x1="365.5" y1="180.18" x2="365.5" y2="190.53" stroke="#999" stroke-width="0.75" />
<line x1="364.7" y1="180.18" x2="366.3" y2="180.18" stroke="#999" stroke-width="0.75" />
<line x1="364.7" y1="190.53" x2="366.3" y2="190.53" stroke="#999" stroke-width="0.75" />
<line x1="389.45" y1="217.51" x2="389.45" y2="229.34" stroke="#999" stroke-width="0.75" />
<line x1="388.65" y1="217.51" x2="390.25" y2="217.51" stroke="#999" stroke-width="0.75" />
<line x1="388.65" y1="229.34" x2="390.25" y2="229.34" stroke="#999" stroke-width="0.75" />
<line x1="341.55" y1="193.19" x2="341.55" y2="202.06" stroke="#999" stroke-width="0.75" />
<line x1="340.75" y1="193.19" x2="342.35" y2="193.19" stroke="#999" stroke-width="0.75" />
<line x1="340.75" y1="202.06" x2="342.35" y2="202.06" stroke="#999" stroke-width="0.75" />
<line x1="365.5" y1="245.61" x2="365.5" y2="253" stroke="#999" stroke-width="0.75" />
<line x1="364.7" y1="245.61" x2="366.3" y2="245.61" stroke="#999" stroke-width="0.75" />
<line x1="364.7" y1="253" x2="366.3" y2="253" stroke="#999" stroke-width="0.75" />
<line x1="317.6" y1="180.18" x2="317.6" y2="192.01" stroke="#999" stroke-width="0.75" />
<line x1="316.8" y1="180.18" x2="318.4" y2="180.18" stroke="#999" stroke-width="0.75" />
<line x1="316.8" y1="192.01" x2="318.4" y2="192.01" stroke="#999" stroke-width="0.75" />
<polyline points="317.6,202.5 341.55,202.5 365.5,204.5 389.45,214.5 413.4,218.5 437.35,226.5 461.3,232.5" stroke="#3a3a3a" stroke-width="1" fill="none" stroke-linejoin="round" />
<polyline points="317.6,172.5 341.55,184.5 365.5,185.5 389.45,223.5 413.4,248.5 437.35,259.5 461.3,259.5" stroke="#2a2a2a" stroke-width="1" fill="none" stroke-linejoin="round" />
<polyline points="317.6,172.5 341.55,181.5 365.5,209.5 389.45,241.5 413.4,248.5 437.35,246.5 461.3,249.5" stroke="#1a1a1a" stroke-width="1.1" fill="none" stroke-linejoin="round" />
<polyline points="317.6,180.5 341.55,197.5 365.5,249.5 389.45,258.5 413.4,260.5 437.35,260.5 461.3,259.5" stroke="#1a1a1a" stroke-width="1.1" fill="none" stroke-linejoin="round" />
<polyline points="317.6,186.5 341.55,258.5 365.5,260.5 389.45,260.5 413.4,261.5 437.35,261.5 461.3,261.5" stroke="#1a1a1a" stroke-width="1.1" fill="none" stroke-linejoin="round" />
<circle cx="317.6" cy="202.5" r="2.5" fill="#f2f2f2" stroke="#777" stroke-width="0.9"/>
<circle cx="341.55" cy="202.5" r="2.5" fill="#f2f2f2" stroke="#777" stroke-width="0.9"/>
<circle cx="365.5" cy="204.5" r="2.5" fill="#f2f2f2" stroke="#777" stroke-width="0.9"/>
<circle cx="389.45" cy="214.5" r="2.5" fill="#f2f2f2" stroke="#777" stroke-width="0.9"/>
<circle cx="413.4" cy="218.5" r="2.5" fill="#f2f2f2" stroke="#777" stroke-width="0.9"/>
<circle cx="437.35" cy="226.5" r="2.5" fill="#f2f2f2" stroke="#777" stroke-width="0.9"/>
<circle cx="461.3" cy="232.5" r="2.5" fill="#f2f2f2" stroke="#777" stroke-width="0.9"/>
<line x1="316.1" y1="171" x2="319.1" y2="174" stroke="#999" stroke-width="0.7" />
<line x1="316.1" y1="174" x2="319.1" y2="171" stroke="#999" stroke-width="0.7" />
<line x1="340.05" y1="183" x2="343.05" y2="186" stroke="#999" stroke-width="0.7" />
<line x1="340.05" y1="186" x2="343.05" y2="183" stroke="#999" stroke-width="0.7" />
<line x1="364" y1="184" x2="367" y2="187" stroke="#999" stroke-width="0.7" />
<line x1="364" y1="187" x2="367" y2="184" stroke="#999" stroke-width="0.7" />
<line x1="387.95" y1="222" x2="390.95" y2="225" stroke="#999" stroke-width="0.7" />
<line x1="387.95" y1="225" x2="390.95" y2="222" stroke="#999" stroke-width="0.7" />
<line x1="411.9" y1="247" x2="414.9" y2="250" stroke="#999" stroke-width="0.7" />
<line x1="411.9" y1="250" x2="414.9" y2="247" stroke="#999" stroke-width="0.7" />
<line x1="435.85" y1="258" x2="438.85" y2="261" stroke="#999" stroke-width="0.7" />
<line x1="435.85" y1="261" x2="438.85" y2="258" stroke="#999" stroke-width="0.7" />
<line x1="459.8" y1="258" x2="462.8" y2="261" stroke="#999" stroke-width="0.7" />
<line x1="459.8" y1="261" x2="462.8" y2="258" stroke="#999" stroke-width="0.7" />
<polygon points="317.6,170.09 319.9,174.11 315.3,174.11" fill="#000"/>
<polygon points="341.55,179.09 343.85,183.11 339.25,183.11" fill="#000"/>
<polygon points="365.5,207.09 367.8,211.11 363.2,211.11" fill="#000"/>
<polygon points="389.45,239.09 391.75,243.11 387.15,243.11" fill="#000"/>
<polygon points="413.4,246.09 415.7,250.11 411.1,250.11" fill="#000"/>
<polygon points="437.35,244.09 439.65,248.11 435.05,248.11" fill="#000"/>
<polygon points="461.3,247.09 463.6,251.11 459,251.11" fill="#000"/>
<rect x="315.55" y="178.45" width="4.1" height="4.1" fill="#000" stroke="none" stroke-width="1"/>
<rect x="339.5" y="195.45" width="4.1" height="4.1" fill="#000" stroke="none" stroke-width="1"/>
<rect x="363.45" y="247.45" width="4.1" height="4.1" fill="#000" stroke="none" stroke-width="1"/>
<rect x="387.4" y="256.45" width="4.1" height="4.1" fill="#000" stroke="none" stroke-width="1"/>
<rect x="411.35" y="258.45" width="4.1" height="4.1" fill="#000" stroke="none" stroke-width="1"/>
<rect x="435.3" y="258.45" width="4.1" height="4.1" fill="#000" stroke="none" stroke-width="1"/>
<rect x="459.25" y="257.45" width="4.1" height="4.1" fill="#000" stroke="none" stroke-width="1"/>
<polygon points="317.6,184.15 319.95,186.5 317.6,188.85 315.25,186.5" fill="#000"/>
<polygon points="341.55,256.15 343.9,258.5 341.55,260.85 339.2,258.5" fill="#000"/>
<polygon points="365.5,258.15 367.85,260.5 365.5,262.85 363.15,260.5" fill="#000"/>
<polygon points="389.45,258.15 391.8,260.5 389.45,262.85 387.1,260.5" fill="#000"/>
<polygon points="413.4,259.15 415.75,261.5 413.4,263.85 411.05,261.5" fill="#000"/>
<polygon points="437.35,259.15 439.7,261.5 437.35,263.85 435,261.5" fill="#000"/>
<polygon points="461.3,259.15 463.65,261.5 461.3,263.85 458.95,261.5" fill="#000"/>
<rect x="408.5" y="161.5" width="62" height="14" fill="#fff" stroke="#777" stroke-width="0.9"/>
<text x="412.73" y="171.51" font-size="8.98" font-weight="normal" textLength="53.36" lengthAdjust="spacingAndGlyphs" fill="#1a1a1a">U266 – 48h</text>
<rect x="476.5" y="157.5" width="38" height="79" fill="#fff" stroke="#777" stroke-width="0.9"/>
<line x1="479.3" y1="165.5" x2="497.5" y2="165.5" stroke="#555" stroke-width="0.8" />
<polygon points="488.5,163.05 490.85,165.4 488.5,167.75 486.15,165.4" fill="#000"/>
<text x="499.2" y="168.23" font-size="8.2" textLength="5.47" lengthAdjust="spacingAndGlyphs" fill="#1a1a1a">0</text>
<line x1="479.3" y1="181.5" x2="497.5" y2="181.5" stroke="#555" stroke-width="0.8" />
<rect x="486.45" y="179.15" width="4.1" height="4.1" fill="#000" stroke="none" stroke-width="1"/>
<text x="499.2" y="184.03" font-size="8.2" textLength="13.68" lengthAdjust="spacingAndGlyphs" fill="#1a1a1a">2.5</text>
<line x1="479.3" y1="197.5" x2="497.5" y2="197.5" stroke="#555" stroke-width="0.8" />
<polygon points="488.5,194.59 490.8,198.61 486.2,198.61" fill="#000"/>
<text x="499.2" y="199.79" font-size="8.2" textLength="5.47" lengthAdjust="spacingAndGlyphs" fill="#1a1a1a">5</text>
<line x1="479.3" y1="212.5" x2="497.5" y2="212.5" stroke="#aaa" stroke-width="0.8" />
<line x1="487" y1="211.3" x2="490" y2="214.3" stroke="#999" stroke-width="0.7" />
<line x1="487" y1="214.3" x2="490" y2="211.3" stroke="#999" stroke-width="0.7" />
<text x="499.2" y="215.63" font-size="8.2" textLength="10.95" lengthAdjust="spacingAndGlyphs" fill="#1a1a1a">10</text>
<line x1="479.3" y1="228.5" x2="497.5" y2="228.5" stroke="#888" stroke-width="0.8" />
<circle cx="488.5" cy="228.6" r="2.5" fill="#f2f2f2" stroke="#777" stroke-width="0.9"/>
<text x="499.2" y="231.43" font-size="8.2" textLength="10.95" lengthAdjust="spacingAndGlyphs" fill="#1a1a1a">20</text>
<text x="461.43" y="152.18" font-size="9.5" textLength="53.07" lengthAdjust="spacingAndGlyphs" fill="#1a1a1a">EGCG [<tspan font-style="italic">μ</tspan>M]</text>
<text x="0" y="0" transform="translate(283.07,246.83) rotate(-90)" font-size="8.8" textLength="61.93" lengthAdjust="spacingAndGlyphs" fill="#1a1a1a">% Cell Viability</text>
<line x1="305.6" y1="404.5" x2="473.5" y2="404.5" stroke="#8a8a8a" stroke-width="0.9" />
<line x1="303.4" y1="404.5" x2="305.6" y2="404.5" stroke="#8a8a8a" stroke-width="0.9" />
<text x="295.31" y="407.02" font-size="7.3" font-weight="normal" textLength="4.34" lengthAdjust="spacingAndGlyphs" fill="#1a1a1a">0</text>
<line x1="305.6" y1="386.5" x2="473.5" y2="386.5" stroke="#8a8a8a" stroke-width="0.9" />
<line x1="303.4" y1="386.5" x2="305.6" y2="386.5" stroke="#8a8a8a" stroke-width="0.9" />
<text x="293.11" y="389.71" font-size="7.3" font-weight="normal" textLength="8.69" lengthAdjust="spacingAndGlyphs" fill="#1a1a1a">20</text>
<line x1="305.6" y1="369.5" x2="473.5" y2="369.5" stroke="#8a8a8a" stroke-width="0.9" />
<line x1="303.4" y1="369.5" x2="305.6" y2="369.5" stroke="#8a8a8a" stroke-width="0.9" />
<text x="293.22" y="372.41" font-size="7.3" font-weight="normal" textLength="8.69" lengthAdjust="spacingAndGlyphs" fill="#1a1a1a">40</text>
<line x1="305.6" y1="352.5" x2="473.5" y2="352.5" stroke="#8a8a8a" stroke-width="0.9" />
<line x1="303.4" y1="352.5" x2="305.6" y2="352.5" stroke="#8a8a8a" stroke-width="0.9" />
<text x="293.11" y="355.11" font-size="7.3" font-weight="normal" textLength="8.69" lengthAdjust="spacingAndGlyphs" fill="#1a1a1a">60</text>
<line x1="305.6" y1="334.5" x2="473.5" y2="334.5" stroke="#8a8a8a" stroke-width="0.9" />
<line x1="303.4" y1="334.5" x2="305.6" y2="334.5" stroke="#8a8a8a" stroke-width="0.9" />
<text x="293.13" y="337.8" font-size="7.3" font-weight="normal" textLength="8.69" lengthAdjust="spacingAndGlyphs" fill="#1a1a1a">80</text>
<line x1="305.6" y1="317.5" x2="473.5" y2="317.5" stroke="#8a8a8a" stroke-width="0.9" />
<line x1="303.4" y1="317.5" x2="305.6" y2="317.5" stroke="#8a8a8a" stroke-width="0.9" />
<text x="290.84" y="320.5" font-size="7.3" font-weight="normal" textLength="13.03" lengthAdjust="spacingAndGlyphs" fill="#1a1a1a">100</text>
<line x1="305.6" y1="300.5" x2="473.5" y2="300.5" stroke="#8a8a8a" stroke-width="0.9" />
<line x1="303.4" y1="300.5" x2="305.6" y2="300.5" stroke="#8a8a8a" stroke-width="0.9" />
<text x="290.84" y="303.19" font-size="7.3" font-weight="normal" textLength="13.03" lengthAdjust="spacingAndGlyphs" fill="#1a1a1a">120</text>
<line x1="473.5" y1="300.38" x2="473.5" y2="404.2" stroke="#8a8a8a" stroke-width="0.9" />
<line x1="305.6" y1="300.38" x2="305.6" y2="405.2" stroke="#9a9a9a" stroke-width="1.8" />
<line x1="305.6" y1="404.2" x2="473.5" y2="404.2" stroke="#9a9a9a" stroke-width="1.6" />
<line x1="329.5" y1="404.2" x2="329.5" y2="406.4" stroke="#8a8a8a" stroke-width="0.9" />
<line x1="353.5" y1="404.2" x2="353.5" y2="406.4" stroke="#8a8a8a" stroke-width="0.9" />
<line x1="377.5" y1="404.2" x2="377.5" y2="406.4" stroke="#8a8a8a" stroke-width="0.9" />
<line x1="401.5" y1="404.2" x2="401.5" y2="406.4" stroke="#8a8a8a" stroke-width="0.9" />
<line x1="425.5" y1="404.2" x2="425.5" y2="406.4" stroke="#8a8a8a" stroke-width="0.9" />
<line x1="449.5" y1="404.2" x2="449.5" y2="406.4" stroke="#8a8a8a" stroke-width="0.9" />
<text x="317.53" y="416.83" font-size="8.2" font-weight="normal" textLength="5.11" lengthAdjust="spacingAndGlyphs" fill="#1a1a1a">0</text>
<text x="335.62" y="416.83" font-size="8.2" font-weight="normal" textLength="10.22" lengthAdjust="spacingAndGlyphs" fill="#1a1a1a">10</text>
<text x="360.53" y="416.83" font-size="8.2" font-weight="normal" textLength="10.22" lengthAdjust="spacingAndGlyphs" fill="#1a1a1a">20</text>
<text x="384.77" y="416.83" font-size="8.2" font-weight="normal" textLength="10.22" lengthAdjust="spacingAndGlyphs" fill="#1a1a1a">40</text>
<text x="408.43" y="416.83" font-size="8.2" font-weight="normal" textLength="10.22" lengthAdjust="spacingAndGlyphs" fill="#1a1a1a">60</text>
<text x="432.16" y="416.83" font-size="8.2" font-weight="normal" textLength="10.22" lengthAdjust="spacingAndGlyphs" fill="#1a1a1a">80</text>
<text x="452.87" y="416.83" font-size="8.2" font-weight="normal" textLength="15.32" lengthAdjust="spacingAndGlyphs" fill="#1a1a1a">100</text>
<text x="473.81" y="416.37" font-size="8.24" font-weight="normal" textLength="42.61" lengthAdjust="spacingAndGlyphs" fill="#1a1a1a">BZM [nM]</text>
<line x1="317.6" y1="304.7" x2="317.6" y2="330.66" stroke="#999" stroke-width="0.75" />
<line x1="316.8" y1="304.7" x2="318.4" y2="304.7" stroke="#999" stroke-width="0.75" />
<line x1="316.8" y1="330.66" x2="318.4" y2="330.66" stroke="#999" stroke-width="0.75" />
<line x1="341.55" y1="330.66" x2="341.55" y2="339.31" stroke="#999" stroke-width="0.75" />
<line x1="340.75" y1="330.66" x2="342.35" y2="330.66" stroke="#999" stroke-width="0.75" />
<line x1="340.75" y1="339.31" x2="342.35" y2="339.31" stroke="#999" stroke-width="0.75" />
<line x1="317.6" y1="304.7" x2="317.6" y2="318.55" stroke="#999" stroke-width="0.75" />
<line x1="316.8" y1="304.7" x2="318.4" y2="304.7" stroke="#999" stroke-width="0.75" />
<line x1="316.8" y1="318.55" x2="318.4" y2="318.55" stroke="#999" stroke-width="0.75" />
<line x1="365.5" y1="366.13" x2="365.5" y2="379.97" stroke="#999" stroke-width="0.75" />
<line x1="364.7" y1="366.13" x2="366.3" y2="366.13" stroke="#999" stroke-width="0.75" />
<line x1="364.7" y1="379.97" x2="366.3" y2="379.97" stroke="#999" stroke-width="0.75" />
<line x1="317.6" y1="343.64" x2="317.6" y2="360.94" stroke="#999" stroke-width="0.75" />
<line x1="316.8" y1="343.64" x2="318.4" y2="343.64" stroke="#999" stroke-width="0.75" />
<line x1="316.8" y1="360.94" x2="318.4" y2="360.94" stroke="#999" stroke-width="0.75" />
<line x1="365.5" y1="357.65" x2="365.5" y2="366.3" stroke="#999" stroke-width="0.75" />
<line x1="364.7" y1="357.65" x2="366.3" y2="357.65" stroke="#999" stroke-width="0.75" />
<line x1="364.7" y1="366.3" x2="366.3" y2="366.3" stroke="#999" stroke-width="0.75" />
<polyline points="317.6,352.5 341.55,354.5 365.5,361.5 389.45,384.5 413.4,391.5 437.35,392.5 461.3,392.5" stroke="#3a3a3a" stroke-width="1" fill="none" stroke-linejoin="round" />
<polyline points="317.6,311.5 341.55,322.5 365.5,373.5 389.45,403.5 413.4,403.5 437.35,403.5 461.3,402.5" stroke="#2a2a2a" stroke-width="1" fill="none" stroke-linejoin="round" />
<polyline points="317.6,317.5 341.55,334.5 365.5,402.5 389.45,403.5 413.4,403.5 437.35,403.5 461.3,403.5" stroke="#1a1a1a" stroke-width="1.1" fill="none" stroke-linejoin="round" />
<polyline points="317.6,317.5 341.55,398.5 365.5,403.5 389.45,403.5 413.4,403.5 437.35,403.5 461.3,401.5" stroke="#1a1a1a" stroke-width="1.1" fill="none" stroke-linejoin="round" />
<circle cx="317.6" cy="352.5" r="2.5" fill="#f2f2f2" stroke="#777" stroke-width="0.9"/>
<circle cx="341.55" cy="354.5" r="2.5" fill="#f2f2f2" stroke="#777" stroke-width="0.9"/>
<circle cx="365.5" cy="361.5" r="2.5" fill="#f2f2f2" stroke="#777" stroke-width="0.9"/>
<circle cx="389.45" cy="384.5" r="2.5" fill="#f2f2f2" stroke="#777" stroke-width="0.9"/>
<circle cx="413.4" cy="391.5" r="2.5" fill="#f2f2f2" stroke="#777" stroke-width="0.9"/>
<circle cx="437.35" cy="392.5" r="2.5" fill="#f2f2f2" stroke="#777" stroke-width="0.9"/>
<circle cx="461.3" cy="392.5" r="2.5" fill="#f2f2f2" stroke="#777" stroke-width="0.9"/>
<line x1="316.1" y1="310" x2="319.1" y2="313" stroke="#999" stroke-width="0.7" />
<line x1="316.1" y1="313" x2="319.1" y2="310" stroke="#999" stroke-width="0.7" />
<line x1="340.05" y1="321" x2="343.05" y2="324" stroke="#999" stroke-width="0.7" />
<line x1="340.05" y1="324" x2="343.05" y2="321" stroke="#999" stroke-width="0.7" />
<line x1="364" y1="372" x2="367" y2="375" stroke="#999" stroke-width="0.7" />
<line x1="364" y1="375" x2="367" y2="372" stroke="#999" stroke-width="0.7" />
<line x1="387.95" y1="402" x2="390.95" y2="405" stroke="#999" stroke-width="0.7" />
<line x1="387.95" y1="405" x2="390.95" y2="402" stroke="#999" stroke-width="0.7" />
<line x1="411.9" y1="402" x2="414.9" y2="405" stroke="#999" stroke-width="0.7" />
<line x1="411.9" y1="405" x2="414.9" y2="402" stroke="#999" stroke-width="0.7" />
<line x1="435.85" y1="402" x2="438.85" y2="405" stroke="#999" stroke-width="0.7" />
<line x1="435.85" y1="405" x2="438.85" y2="402" stroke="#999" stroke-width="0.7" />
<line x1="459.8" y1="401" x2="462.8" y2="404" stroke="#999" stroke-width="0.7" />
<line x1="459.8" y1="404" x2="462.8" y2="401" stroke="#999" stroke-width="0.7" />
<polygon points="317.6,315.08 319.9,319.11 315.3,319.11" fill="#000"/>
<polygon points="341.55,332.08 343.85,336.11 339.25,336.11" fill="#000"/>
<polygon points="365.5,400.08 367.8,404.11 363.2,404.11" fill="#000"/>
<polygon points="389.45,401.08 391.75,405.11 387.15,405.11" fill="#000"/>
<polygon points="413.4,401.08 415.7,405.11 411.1,405.11" fill="#000"/>
<polygon points="437.35,401.08 439.65,405.11 435.05,405.11" fill="#000"/>
<polygon points="461.3,401.08 463.6,405.11 459,405.11" fill="#000"/>
<polygon points="317.6,315.15 319.95,317.5 317.6,319.85 315.25,317.5" fill="#000"/>
<polygon points="341.55,396.15 343.9,398.5 341.55,400.85 339.2,398.5" fill="#000"/>
<polygon points="365.5,401.15 367.85,403.5 365.5,405.85 363.15,403.5" fill="#000"/>
<polygon points="389.45,401.15 391.8,403.5 389.45,405.85 387.1,403.5" fill="#000"/>
<polygon points="413.4,401.15 415.75,403.5 413.4,405.85 411.05,403.5" fill="#000"/>
<polygon points="437.35,401.15 439.7,403.5 437.35,405.85 435,403.5" fill="#000"/>
<polygon points="461.3,399.15 463.65,401.5 461.3,403.85 458.95,401.5" fill="#000"/>
<rect x="411.5" y="304.5" width="57" height="15" fill="#fff" stroke="#777" stroke-width="0.9"/>
<text x="414.58" y="314.91" font-size="8.98" font-weight="normal" textLength="51.52" lengthAdjust="spacingAndGlyphs" fill="#1a1a1a">MM1 – 48h</text>
<rect x="476.5" y="301.5" width="38" height="63" fill="#fff" stroke="#777" stroke-width="0.9"/>
<line x1="479.3" y1="308.5" x2="497.5" y2="308.5" stroke="#555" stroke-width="0.8" />
<polygon points="488.5,305.95 490.85,308.3 488.5,310.65 486.15,308.3" fill="#000"/>
<text x="499.2" y="311.13" font-size="8.2" textLength="5.47" lengthAdjust="spacingAndGlyphs" fill="#1a1a1a">0</text>
<line x1="479.3" y1="324.5" x2="497.5" y2="324.5" stroke="#555" stroke-width="0.8" />
<polygon points="488.5,321.88 490.8,325.91 486.2,325.91" fill="#000"/>
<text x="499.2" y="327.09" font-size="8.2" textLength="5.47" lengthAdjust="spacingAndGlyphs" fill="#1a1a1a">5</text>
<line x1="479.3" y1="340.5" x2="497.5" y2="340.5" stroke="#aaa" stroke-width="0.8" />
<line x1="487" y1="338.8" x2="490" y2="341.8" stroke="#999" stroke-width="0.7" />
<line x1="487" y1="341.8" x2="490" y2="338.8" stroke="#999" stroke-width="0.7" />
<text x="499.2" y="343.13" font-size="8.2" textLength="10.95" lengthAdjust="spacingAndGlyphs" fill="#1a1a1a">10</text>
<line x1="479.3" y1="356.5" x2="497.5" y2="356.5" stroke="#888" stroke-width="0.8" />
<circle cx="488.5" cy="356.3" r="2.5" fill="#f2f2f2" stroke="#777" stroke-width="0.9"/>
<text x="499.2" y="359.13" font-size="8.2" textLength="10.95" lengthAdjust="spacingAndGlyphs" fill="#1a1a1a">20</text>
<text x="461.43" y="294.58" font-size="9.5" textLength="53.07" lengthAdjust="spacingAndGlyphs" fill="#1a1a1a">EGCG [<tspan font-style="italic">μ</tspan>M]</text>
<text x="0" y="0" transform="translate(283.07,390.64) rotate(-90)" font-size="8.8" textLength="63.14" lengthAdjust="spacingAndGlyphs" fill="#1a1a1a">% Cell Viability</text>
<line x1="305.6" y1="547.5" x2="473.5" y2="547.5" stroke="#8a8a8a" stroke-width="0.9" />
<line x1="303.4" y1="547.5" x2="305.6" y2="547.5" stroke="#8a8a8a" stroke-width="0.9" />
<text x="295.31" y="550.52" font-size="7.3" font-weight="normal" textLength="4.34" lengthAdjust="spacingAndGlyphs" fill="#1a1a1a">0</text>
<line x1="305.6" y1="530.5" x2="473.5" y2="530.5" stroke="#8a8a8a" stroke-width="0.9" />
<line x1="303.4" y1="530.5" x2="305.6" y2="530.5" stroke="#8a8a8a" stroke-width="0.9" />
<text x="293.11" y="533.21" font-size="7.3" font-weight="normal" textLength="8.69" lengthAdjust="spacingAndGlyphs" fill="#1a1a1a">20</text>
<line x1="305.6" y1="513.5" x2="473.5" y2="513.5" stroke="#8a8a8a" stroke-width="0.9" />
<line x1="303.4" y1="513.5" x2="305.6" y2="513.5" stroke="#8a8a8a" stroke-width="0.9" />
<text x="293.22" y="515.91" font-size="7.3" font-weight="normal" textLength="8.69" lengthAdjust="spacingAndGlyphs" fill="#1a1a1a">40</text>
<line x1="305.6" y1="495.5" x2="473.5" y2="495.5" stroke="#8a8a8a" stroke-width="0.9" />
<line x1="303.4" y1="495.5" x2="305.6" y2="495.5" stroke="#8a8a8a" stroke-width="0.9" />
<text x="293.11" y="498.61" font-size="7.3" font-weight="normal" textLength="8.69" lengthAdjust="spacingAndGlyphs" fill="#1a1a1a">60</text>
<line x1="305.6" y1="478.5" x2="473.5" y2="478.5" stroke="#8a8a8a" stroke-width="0.9" />
<line x1="303.4" y1="478.5" x2="305.6" y2="478.5" stroke="#8a8a8a" stroke-width="0.9" />
<text x="293.13" y="481.3" font-size="7.3" font-weight="normal" textLength="8.69" lengthAdjust="spacingAndGlyphs" fill="#1a1a1a">80</text>
<line x1="305.6" y1="461.5" x2="473.5" y2="461.5" stroke="#8a8a8a" stroke-width="0.9" />
<line x1="303.4" y1="461.5" x2="305.6" y2="461.5" stroke="#8a8a8a" stroke-width="0.9" />
<text x="290.84" y="464" font-size="7.3" font-weight="normal" textLength="13.03" lengthAdjust="spacingAndGlyphs" fill="#1a1a1a">100</text>
<line x1="305.6" y1="443.5" x2="473.5" y2="443.5" stroke="#8a8a8a" stroke-width="0.9" />
<line x1="303.4" y1="443.5" x2="305.6" y2="443.5" stroke="#8a8a8a" stroke-width="0.9" />
<text x="290.84" y="446.69" font-size="7.3" font-weight="normal" textLength="13.03" lengthAdjust="spacingAndGlyphs" fill="#1a1a1a">120</text>
<line x1="473.5" y1="443.88" x2="473.5" y2="547.7" stroke="#8a8a8a" stroke-width="0.9" />
<line x1="305.6" y1="443.88" x2="305.6" y2="548.7" stroke="#9a9a9a" stroke-width="1.8" />
<line x1="305.6" y1="547.7" x2="473.5" y2="547.7" stroke="#9a9a9a" stroke-width="1.6" />
<line x1="329.5" y1="547.7" x2="329.5" y2="549.9" stroke="#8a8a8a" stroke-width="0.9" />
<line x1="353.5" y1="547.7" x2="353.5" y2="549.9" stroke="#8a8a8a" stroke-width="0.9" />
<line x1="377.5" y1="547.7" x2="377.5" y2="549.9" stroke="#8a8a8a" stroke-width="0.9" />
<line x1="401.5" y1="547.7" x2="401.5" y2="549.9" stroke="#8a8a8a" stroke-width="0.9" />
<line x1="425.5" y1="547.7" x2="425.5" y2="549.9" stroke="#8a8a8a" stroke-width="0.9" />
<line x1="449.5" y1="547.7" x2="449.5" y2="549.9" stroke="#8a8a8a" stroke-width="0.9" />
<text x="317.23" y="560.13" font-size="8.2" font-weight="normal" textLength="5.11" lengthAdjust="spacingAndGlyphs" fill="#1a1a1a">0</text>
<text x="335.32" y="560.13" font-size="8.2" font-weight="normal" textLength="10.22" lengthAdjust="spacingAndGlyphs" fill="#1a1a1a">10</text>
<text x="360.23" y="560.13" font-size="8.2" font-weight="normal" textLength="10.22" lengthAdjust="spacingAndGlyphs" fill="#1a1a1a">20</text>
<text x="384.47" y="560.13" font-size="8.2" font-weight="normal" textLength="10.22" lengthAdjust="spacingAndGlyphs" fill="#1a1a1a">40</text>
<text x="408.13" y="560.13" font-size="8.2" font-weight="normal" textLength="10.22" lengthAdjust="spacingAndGlyphs" fill="#1a1a1a">60</text>
<text x="431.86" y="560.13" font-size="8.2" font-weight="normal" textLength="10.22" lengthAdjust="spacingAndGlyphs" fill="#1a1a1a">80</text>
<text x="452.57" y="560.13" font-size="8.2" font-weight="normal" textLength="15.32" lengthAdjust="spacingAndGlyphs" fill="#1a1a1a">100</text>
<text x="473.81" y="559.67" font-size="8.24" font-weight="normal" textLength="42.61" lengthAdjust="spacingAndGlyphs" fill="#1a1a1a">BZM [nM]</text>
<line x1="341.55" y1="511.36" x2="341.55" y2="533.86" stroke="#999" stroke-width="0.75" />
<line x1="340.75" y1="511.36" x2="342.35" y2="511.36" stroke="#999" stroke-width="0.75" />
<line x1="340.75" y1="533.86" x2="342.35" y2="533.86" stroke="#999" stroke-width="0.75" />
<line x1="317.6" y1="445.61" x2="317.6" y2="457.72" stroke="#999" stroke-width="0.75" />
<line x1="316.8" y1="445.61" x2="318.4" y2="445.61" stroke="#999" stroke-width="0.75" />
<line x1="316.8" y1="457.72" x2="318.4" y2="457.72" stroke="#999" stroke-width="0.75" />
<line x1="341.55" y1="445.61" x2="341.55" y2="454.26" stroke="#999" stroke-width="0.75" />
<line x1="340.75" y1="445.61" x2="342.35" y2="445.61" stroke="#999" stroke-width="0.75" />
<line x1="340.75" y1="454.26" x2="342.35" y2="454.26" stroke="#999" stroke-width="0.75" />
<line x1="317.6" y1="463.78" x2="317.6" y2="472.43" stroke="#999" stroke-width="0.75" />
<line x1="316.8" y1="463.78" x2="318.4" y2="463.78" stroke="#999" stroke-width="0.75" />
<line x1="316.8" y1="472.43" x2="318.4" y2="472.43" stroke="#999" stroke-width="0.75" />
<line x1="341.55" y1="457.72" x2="341.55" y2="466.37" stroke="#999" stroke-width="0.75" />
<line x1="340.75" y1="457.72" x2="342.35" y2="457.72" stroke="#999" stroke-width="0.75" />
<line x1="340.75" y1="466.37" x2="342.35" y2="466.37" stroke="#999" stroke-width="0.75" />
<line x1="389.45" y1="510.5" x2="389.45" y2="519.15" stroke="#999" stroke-width="0.75" />
<line x1="388.65" y1="510.5" x2="390.25" y2="510.5" stroke="#999" stroke-width="0.75" />
<line x1="388.65" y1="519.15" x2="390.25" y2="519.15" stroke="#999" stroke-width="0.75" />
<line x1="317.6" y1="520.01" x2="317.6" y2="528.67" stroke="#999" stroke-width="0.75" />
<line x1="316.8" y1="520.01" x2="318.4" y2="520.01" stroke="#999" stroke-width="0.75" />
<line x1="316.8" y1="528.67" x2="318.4" y2="528.67" stroke="#999" stroke-width="0.75" />
<line x1="389.45" y1="517.59" x2="389.45" y2="527.97" stroke="#999" stroke-width="0.75" />
<line x1="388.65" y1="517.59" x2="390.25" y2="517.59" stroke="#999" stroke-width="0.75" />
<line x1="388.65" y1="527.97" x2="390.25" y2="527.97" stroke="#999" stroke-width="0.75" />
<polyline points="317.6,524.5 341.55,529.5 365.5,527.5 389.45,522.5 413.4,531.5 437.35,531.5 461.3,531.5" stroke="#3a3a3a" stroke-width="1" fill="none" stroke-linejoin="round" />
<polyline points="317.6,468.5 341.55,462.5 365.5,469.5 389.45,514.5 413.4,539.5 437.35,545.5 461.3,545.5" stroke="#2a2a2a" stroke-width="1" fill="none" stroke-linejoin="round" />
<polyline points="317.6,451.5 341.55,449.5 365.5,480.5 389.45,544.5 413.4,546.5 437.35,546.5 461.3,546.5" stroke="#1a1a1a" stroke-width="1.1" fill="none" stroke-linejoin="round" />
<polyline points="317.6,461.5 341.55,522.5 365.5,546.5 389.45,547.5 413.4,547.5 437.35,547.5 461.3,547.5" stroke="#1a1a1a" stroke-width="1.1" fill="none" stroke-linejoin="round" />
<circle cx="317.6" cy="524.5" r="2.5" fill="#f2f2f2" stroke="#777" stroke-width="0.9"/>
<circle cx="341.55" cy="529.5" r="2.5" fill="#f2f2f2" stroke="#777" stroke-width="0.9"/>
<circle cx="365.5" cy="527.5" r="2.5" fill="#f2f2f2" stroke="#777" stroke-width="0.9"/>
<circle cx="389.45" cy="522.5" r="2.5" fill="#f2f2f2" stroke="#777" stroke-width="0.9"/>
<circle cx="413.4" cy="531.5" r="2.5" fill="#f2f2f2" stroke="#777" stroke-width="0.9"/>
<circle cx="437.35" cy="531.5" r="2.5" fill="#f2f2f2" stroke="#777" stroke-width="0.9"/>
<circle cx="461.3" cy="531.5" r="2.5" fill="#f2f2f2" stroke="#777" stroke-width="0.9"/>
<line x1="316.1" y1="467" x2="319.1" y2="470" stroke="#999" stroke-width="0.7" />
<line x1="316.1" y1="470" x2="319.1" y2="467" stroke="#999" stroke-width="0.7" />
<line x1="340.05" y1="461" x2="343.05" y2="464" stroke="#999" stroke-width="0.7" />
<line x1="340.05" y1="464" x2="343.05" y2="461" stroke="#999" stroke-width="0.7" />
<line x1="364" y1="468" x2="367" y2="471" stroke="#999" stroke-width="0.7" />
<line x1="364" y1="471" x2="367" y2="468" stroke="#999" stroke-width="0.7" />
<line x1="387.95" y1="513" x2="390.95" y2="516" stroke="#999" stroke-width="0.7" />
<line x1="387.95" y1="516" x2="390.95" y2="513" stroke="#999" stroke-width="0.7" />
<line x1="411.9" y1="538" x2="414.9" y2="541" stroke="#999" stroke-width="0.7" />
<line x1="411.9" y1="541" x2="414.9" y2="538" stroke="#999" stroke-width="0.7" />
<line x1="435.85" y1="544" x2="438.85" y2="547" stroke="#999" stroke-width="0.7" />
<line x1="435.85" y1="547" x2="438.85" y2="544" stroke="#999" stroke-width="0.7" />
<line x1="459.8" y1="544" x2="462.8" y2="547" stroke="#999" stroke-width="0.7" />
<line x1="459.8" y1="547" x2="462.8" y2="544" stroke="#999" stroke-width="0.7" />
<polygon points="317.6,449.08 319.9,453.11 315.3,453.11" fill="#000"/>
<polygon points="341.55,447.08 343.85,451.11 339.25,451.11" fill="#000"/>
<polygon points="365.5,478.08 367.8,482.11 363.2,482.11" fill="#000"/>
<polygon points="389.45,542.09 391.75,546.11 387.15,546.11" fill="#000"/>
<polygon points="413.4,544.09 415.7,548.11 411.1,548.11" fill="#000"/>
<polygon points="437.35,544.09 439.65,548.11 435.05,548.11" fill="#000"/>
<polygon points="461.3,544.09 463.6,548.11 459,548.11" fill="#000"/>
<polygon points="317.6,459.15 319.95,461.5 317.6,463.85 315.25,461.5" fill="#000"/>
<polygon points="341.55,520.15 343.9,522.5 341.55,524.85 339.2,522.5" fill="#000"/>
<polygon points="365.5,544.15 367.85,546.5 365.5,548.85 363.15,546.5" fill="#000"/>
<polygon points="389.45,545.15 391.8,547.5 389.45,549.85 387.1,547.5" fill="#000"/>
<polygon points="413.4,545.15 415.75,547.5 413.4,549.85 411.05,547.5" fill="#000"/>
<polygon points="437.35,545.15 439.7,547.5 437.35,549.85 435,547.5" fill="#000"/>
<polygon points="461.3,545.15 463.65,547.5 461.3,549.85 458.95,547.5" fill="#000"/>
<rect x="409.5" y="448.5" width="58" height="14" fill="#fff" stroke="#777" stroke-width="0.9"/>
<text x="412.67" y="458.6" font-size="9.1" font-weight="normal" textLength="51.83" lengthAdjust="spacingAndGlyphs" fill="#1a1a1a">MM1 – 72h</text>
<rect x="476.5" y="444.5" width="38" height="63" fill="#fff" stroke="#777" stroke-width="0.9"/>
<line x1="479.3" y1="451.5" x2="497.5" y2="451.5" stroke="#555" stroke-width="0.8" />
<polygon points="488.5,448.95 490.85,451.3 488.5,453.65 486.15,451.3" fill="#000"/>
<text x="499.2" y="454.13" font-size="8.2" textLength="5.47" lengthAdjust="spacingAndGlyphs" fill="#1a1a1a">0</text>
<line x1="479.3" y1="467.5" x2="497.5" y2="467.5" stroke="#555" stroke-width="0.8" />
<polygon points="488.5,465.08 490.8,469.11 486.2,469.11" fill="#000"/>
<text x="499.2" y="470.29" font-size="8.2" textLength="5.47" lengthAdjust="spacingAndGlyphs" fill="#1a1a1a">5</text>
<line x1="479.3" y1="483.5" x2="497.5" y2="483.5" stroke="#aaa" stroke-width="0.8" />
<line x1="487" y1="482.2" x2="490" y2="485.2" stroke="#999" stroke-width="0.7" />
<line x1="487" y1="485.2" x2="490" y2="482.2" stroke="#999" stroke-width="0.7" />
<text x="499.2" y="486.53" font-size="8.2" textLength="10.95" lengthAdjust="spacingAndGlyphs" fill="#1a1a1a">10</text>
<line x1="479.3" y1="499.5" x2="497.5" y2="499.5" stroke="#888" stroke-width="0.8" />
<circle cx="488.5" cy="499.9" r="2.5" fill="#f2f2f2" stroke="#777" stroke-width="0.9"/>
<text x="499.2" y="502.73" font-size="8.2" textLength="10.95" lengthAdjust="spacingAndGlyphs" fill="#1a1a1a">20</text>
<text x="461.43" y="437.68" font-size="9.5" textLength="53.07" lengthAdjust="spacingAndGlyphs" fill="#1a1a1a">EGCG [<tspan font-style="italic">μ</tspan>M]</text>
<text x="0" y="0" transform="translate(282.57,534.44) rotate(-90)" font-size="8.8" textLength="63.44" lengthAdjust="spacingAndGlyphs" fill="#1a1a1a">% Cell Viability</text>
<line x1="305.6" y1="690.5" x2="473.5" y2="690.5" stroke="#8a8a8a" stroke-width="0.9" />
<line x1="303.4" y1="690.5" x2="305.6" y2="690.5" stroke="#8a8a8a" stroke-width="0.9" />
<text x="295.31" y="692.82" font-size="7.3" font-weight="normal" textLength="4.34" lengthAdjust="spacingAndGlyphs" fill="#1a1a1a">0</text>
<line x1="305.6" y1="672.5" x2="473.5" y2="672.5" stroke="#8a8a8a" stroke-width="0.9" />
<line x1="303.4" y1="672.5" x2="305.6" y2="672.5" stroke="#8a8a8a" stroke-width="0.9" />
<text x="293.11" y="675.67" font-size="7.3" font-weight="normal" textLength="8.69" lengthAdjust="spacingAndGlyphs" fill="#1a1a1a">20</text>
<line x1="305.6" y1="655.5" x2="473.5" y2="655.5" stroke="#8a8a8a" stroke-width="0.9" />
<line x1="303.4" y1="655.5" x2="305.6" y2="655.5" stroke="#8a8a8a" stroke-width="0.9" />
<text x="293.22" y="658.52" font-size="7.3" font-weight="normal" textLength="8.69" lengthAdjust="spacingAndGlyphs" fill="#1a1a1a">40</text>
<line x1="305.6" y1="638.5" x2="473.5" y2="638.5" stroke="#8a8a8a" stroke-width="0.9" />
<line x1="303.4" y1="638.5" x2="305.6" y2="638.5" stroke="#8a8a8a" stroke-width="0.9" />
<text x="293.11" y="641.37" font-size="7.3" font-weight="normal" textLength="8.69" lengthAdjust="spacingAndGlyphs" fill="#1a1a1a">60</text>
<line x1="305.6" y1="621.5" x2="473.5" y2="621.5" stroke="#8a8a8a" stroke-width="0.9" />
<line x1="303.4" y1="621.5" x2="305.6" y2="621.5" stroke="#8a8a8a" stroke-width="0.9" />
<text x="293.13" y="624.22" font-size="7.3" font-weight="normal" textLength="8.69" lengthAdjust="spacingAndGlyphs" fill="#1a1a1a">80</text>
<line x1="305.6" y1="604.5" x2="473.5" y2="604.5" stroke="#8a8a8a" stroke-width="0.9" />
<line x1="303.4" y1="604.5" x2="305.6" y2="604.5" stroke="#8a8a8a" stroke-width="0.9" />
<text x="290.84" y="607.07" font-size="7.3" font-weight="normal" textLength="13.03" lengthAdjust="spacingAndGlyphs" fill="#1a1a1a">100</text>
<line x1="305.6" y1="587.5" x2="473.5" y2="587.5" stroke="#8a8a8a" stroke-width="0.9" />
<line x1="303.4" y1="587.5" x2="305.6" y2="587.5" stroke="#8a8a8a" stroke-width="0.9" />
<text x="290.84" y="589.92" font-size="7.3" font-weight="normal" textLength="13.03" lengthAdjust="spacingAndGlyphs" fill="#1a1a1a">120</text>
<line x1="473.5" y1="587.1" x2="473.5" y2="690" stroke="#8a8a8a" stroke-width="0.9" />
<line x1="305.6" y1="587.1" x2="305.6" y2="691" stroke="#9a9a9a" stroke-width="1.8" />
<line x1="305.6" y1="690" x2="473.5" y2="690" stroke="#9a9a9a" stroke-width="1.6" />
<line x1="329.5" y1="690" x2="329.5" y2="692.2" stroke="#8a8a8a" stroke-width="0.9" />
<line x1="353.5" y1="690" x2="353.5" y2="692.2" stroke="#8a8a8a" stroke-width="0.9" />
<line x1="377.5" y1="690" x2="377.5" y2="692.2" stroke="#8a8a8a" stroke-width="0.9" />
<line x1="401.5" y1="690" x2="401.5" y2="692.2" stroke="#8a8a8a" stroke-width="0.9" />
<line x1="425.5" y1="690" x2="425.5" y2="692.2" stroke="#8a8a8a" stroke-width="0.9" />
<line x1="449.5" y1="690" x2="449.5" y2="692.2" stroke="#8a8a8a" stroke-width="0.9" />
<text x="316.53" y="701.83" font-size="8.2" font-weight="normal" textLength="5.11" lengthAdjust="spacingAndGlyphs" fill="#1a1a1a">0</text>
<text x="334.62" y="701.83" font-size="8.2" font-weight="normal" textLength="10.22" lengthAdjust="spacingAndGlyphs" fill="#1a1a1a">10</text>
<text x="359.53" y="701.83" font-size="8.2" font-weight="normal" textLength="10.22" lengthAdjust="spacingAndGlyphs" fill="#1a1a1a">20</text>
<text x="383.77" y="701.83" font-size="8.2" font-weight="normal" textLength="10.22" lengthAdjust="spacingAndGlyphs" fill="#1a1a1a">40</text>
<text x="407.43" y="701.83" font-size="8.2" font-weight="normal" textLength="10.22" lengthAdjust="spacingAndGlyphs" fill="#1a1a1a">60</text>
<text x="431.16" y="701.83" font-size="8.2" font-weight="normal" textLength="10.22" lengthAdjust="spacingAndGlyphs" fill="#1a1a1a">80</text>
<text x="451.87" y="701.83" font-size="8.2" font-weight="normal" textLength="15.32" lengthAdjust="spacingAndGlyphs" fill="#1a1a1a">100</text>
<text x="473.81" y="701.37" font-size="8.24" font-weight="normal" textLength="42.61" lengthAdjust="spacingAndGlyphs" fill="#1a1a1a">BZM [nM]</text>
<line x1="341.55" y1="671.13" x2="341.55" y2="683.14" stroke="#999" stroke-width="0.75" />
<line x1="340.75" y1="671.13" x2="342.35" y2="671.13" stroke="#999" stroke-width="0.75" />
<line x1="340.75" y1="683.14" x2="342.35" y2="683.14" stroke="#999" stroke-width="0.75" />
<line x1="317.6" y1="591.39" x2="317.6" y2="599.96" stroke="#999" stroke-width="0.75" />
<line x1="316.8" y1="591.39" x2="318.4" y2="591.39" stroke="#999" stroke-width="0.75" />
<line x1="316.8" y1="599.96" x2="318.4" y2="599.96" stroke="#999" stroke-width="0.75" />
<line x1="365.5" y1="665.13" x2="365.5" y2="673.71" stroke="#999" stroke-width="0.75" />
<line x1="364.7" y1="665.13" x2="366.3" y2="665.13" stroke="#999" stroke-width="0.75" />
<line x1="364.7" y1="673.71" x2="366.3" y2="673.71" stroke="#999" stroke-width="0.75" />
<line x1="317.6" y1="590.53" x2="317.6" y2="617.97" stroke="#999" stroke-width="0.75" />
<line x1="316.8" y1="590.53" x2="318.4" y2="590.53" stroke="#999" stroke-width="0.75" />
<line x1="316.8" y1="617.97" x2="318.4" y2="617.97" stroke="#999" stroke-width="0.75" />
<line x1="341.55" y1="601.68" x2="341.55" y2="606.82" stroke="#999" stroke-width="0.75" />
<line x1="340.75" y1="601.68" x2="342.35" y2="601.68" stroke="#999" stroke-width="0.75" />
<line x1="340.75" y1="606.82" x2="342.35" y2="606.82" stroke="#999" stroke-width="0.75" />
<line x1="317.6" y1="630.4" x2="317.6" y2="637.26" stroke="#999" stroke-width="0.75" />
<line x1="316.8" y1="630.4" x2="318.4" y2="630.4" stroke="#999" stroke-width="0.75" />
<line x1="316.8" y1="637.26" x2="318.4" y2="637.26" stroke="#999" stroke-width="0.75" />
<line x1="341.55" y1="626.12" x2="341.55" y2="641.55" stroke="#999" stroke-width="0.75" />
<line x1="340.75" y1="626.12" x2="342.35" y2="626.12" stroke="#999" stroke-width="0.75" />
<line x1="340.75" y1="641.55" x2="342.35" y2="641.55" stroke="#999" stroke-width="0.75" />
<polyline points="317.6,633.5 341.55,633.5 365.5,641.5 389.45,647.5 413.4,659.5 437.35,671.5 461.3,675.5" stroke="#3a3a3a" stroke-width="1" fill="none" stroke-linejoin="round" />
<polyline points="317.6,604.5 341.55,604.5 365.5,625.5 389.45,677.5 413.4,687.5 437.35,689.5 461.3,689.5" stroke="#2a2a2a" stroke-width="1" fill="none" stroke-linejoin="round" />
<polyline points="317.6,595.5 341.55,608.5 365.5,669.5 389.45,689.5 413.4,689.5 437.35,689.5 461.3,689.5" stroke="#1a1a1a" stroke-width="1.1" fill="none" stroke-linejoin="round" />
<polyline points="317.6,604.5 341.55,677.5 365.5,689.5 389.45,689.5 413.4,689.5 437.35,689.5 461.3,689.5" stroke="#1a1a1a" stroke-width="1.1" fill="none" stroke-linejoin="round" />
<circle cx="317.6" cy="633.5" r="2.5" fill="#f2f2f2" stroke="#777" stroke-width="0.9"/>
<circle cx="341.55" cy="633.5" r="2.5" fill="#f2f2f2" stroke="#777" stroke-width="0.9"/>
<circle cx="365.5" cy="641.5" r="2.5" fill="#f2f2f2" stroke="#777" stroke-width="0.9"/>
<circle cx="389.45" cy="647.5" r="2.5" fill="#f2f2f2" stroke="#777" stroke-width="0.9"/>
<circle cx="413.4" cy="659.5" r="2.5" fill="#f2f2f2" stroke="#777" stroke-width="0.9"/>
<circle cx="437.35" cy="671.5" r="2.5" fill="#f2f2f2" stroke="#777" stroke-width="0.9"/>
<circle cx="461.3" cy="675.5" r="2.5" fill="#f2f2f2" stroke="#777" stroke-width="0.9"/>
<line x1="316.1" y1="603" x2="319.1" y2="606" stroke="#999" stroke-width="0.7" />
<line x1="316.1" y1="606" x2="319.1" y2="603" stroke="#999" stroke-width="0.7" />
<line x1="340.05" y1="603" x2="343.05" y2="606" stroke="#999" stroke-width="0.7" />
<line x1="340.05" y1="606" x2="343.05" y2="603" stroke="#999" stroke-width="0.7" />
<line x1="364" y1="624" x2="367" y2="627" stroke="#999" stroke-width="0.7" />
<line x1="364" y1="627" x2="367" y2="624" stroke="#999" stroke-width="0.7" />
<line x1="387.95" y1="676" x2="390.95" y2="679" stroke="#999" stroke-width="0.7" />
<line x1="387.95" y1="679" x2="390.95" y2="676" stroke="#999" stroke-width="0.7" />
<line x1="411.9" y1="686" x2="414.9" y2="689" stroke="#999" stroke-width="0.7" />
<line x1="411.9" y1="689" x2="414.9" y2="686" stroke="#999" stroke-width="0.7" />
<line x1="435.85" y1="688" x2="438.85" y2="691" stroke="#999" stroke-width="0.7" />
<line x1="435.85" y1="691" x2="438.85" y2="688" stroke="#999" stroke-width="0.7" />
<line x1="459.8" y1="688" x2="462.8" y2="691" stroke="#999" stroke-width="0.7" />
<line x1="459.8" y1="691" x2="462.8" y2="688" stroke="#999" stroke-width="0.7" />
<polygon points="317.6,593.09 319.9,597.11 315.3,597.11" fill="#000"/>
<polygon points="341.55,606.09 343.85,610.11 339.25,610.11" fill="#000"/>
<polygon points="365.5,667.09 367.8,671.11 363.2,671.11" fill="#000"/>
<polygon points="389.45,687.09 391.75,691.11 387.15,691.11" fill="#000"/>
<polygon points="413.4,687.09 415.7,691.11 411.1,691.11" fill="#000"/>
<polygon points="437.35,687.09 439.65,691.11 435.05,691.11" fill="#000"/>
<polygon points="461.3,687.09 463.6,691.11 459,691.11" fill="#000"/>
<polygon points="317.6,602.15 319.95,604.5 317.6,606.85 315.25,604.5" fill="#000"/>
<polygon points="341.55,675.15 343.9,677.5 341.55,679.85 339.2,677.5" fill="#000"/>
<polygon points="365.5,687.15 367.85,689.5 365.5,691.85 363.15,689.5" fill="#000"/>
<polygon points="389.45,687.15 391.8,689.5 389.45,691.85 387.1,689.5" fill="#000"/>
<polygon points="413.4,687.15 415.75,689.5 413.4,691.85 411.05,689.5" fill="#000"/>
<polygon points="437.35,687.15 439.7,689.5 437.35,691.85 435,689.5" fill="#000"/>
<polygon points="461.3,687.15 463.65,689.5 461.3,691.85 458.95,689.5" fill="#000"/>
<rect x="409.5" y="590.5" width="59" height="14" fill="#fff" stroke="#777" stroke-width="0.9"/>
<text x="413.47" y="600.41" font-size="8.98" font-weight="normal" textLength="51.93" lengthAdjust="spacingAndGlyphs" fill="#1a1a1a">MM1 – 48h</text>
<rect x="476.5" y="587.5" width="38" height="63" fill="#fff" stroke="#777" stroke-width="0.9"/>
<line x1="479.3" y1="595.5" x2="497.5" y2="595.5" stroke="#555" stroke-width="0.8" />
<polygon points="488.5,592.65 490.85,595 488.5,597.35 486.15,595" fill="#000"/>
<text x="499.2" y="597.83" font-size="8.2" textLength="5.47" lengthAdjust="spacingAndGlyphs" fill="#1a1a1a">0</text>
<line x1="479.3" y1="610.5" x2="497.5" y2="610.5" stroke="#555" stroke-width="0.8" />
<polygon points="488.5,608.49 490.8,612.51 486.2,612.51" fill="#000"/>
<text x="499.2" y="613.69" font-size="8.2" textLength="5.47" lengthAdjust="spacingAndGlyphs" fill="#1a1a1a">5</text>
<line x1="479.3" y1="626.5" x2="497.5" y2="626.5" stroke="#aaa" stroke-width="0.8" />
<line x1="487" y1="625.3" x2="490" y2="628.3" stroke="#999" stroke-width="0.7" />
<line x1="487" y1="628.3" x2="490" y2="625.3" stroke="#999" stroke-width="0.7" />
<text x="499.2" y="629.63" font-size="8.2" textLength="10.95" lengthAdjust="spacingAndGlyphs" fill="#1a1a1a">10</text>
<line x1="479.3" y1="642.5" x2="497.5" y2="642.5" stroke="#888" stroke-width="0.8" />
<circle cx="488.5" cy="642.7" r="2.5" fill="#f2f2f2" stroke="#777" stroke-width="0.9"/>
<text x="499.2" y="645.53" font-size="8.2" textLength="10.95" lengthAdjust="spacingAndGlyphs" fill="#1a1a1a">20</text>
<text x="408.09" y="582.98" font-size="9.5" textLength="103.77" lengthAdjust="spacingAndGlyphs" fill="#1a1a1a">TAEVIGO–EGCG [<tspan font-style="italic">μ</tspan>M]</text>
<text x="0" y="0" transform="translate(282.87,677.84) rotate(-90)" font-size="8.8" textLength="63.44" lengthAdjust="spacingAndGlyphs" fill="#1a1a1a">% Cell Viability</text>
</svg></body></html>
